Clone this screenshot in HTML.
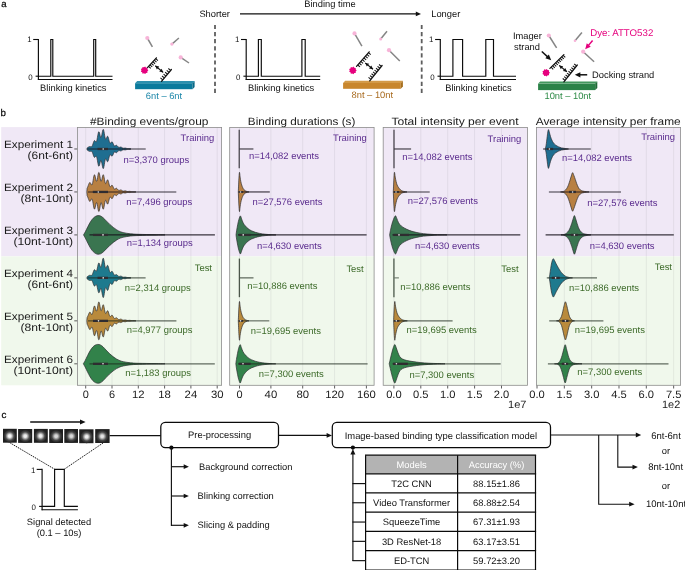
<!DOCTYPE html>
<html><head><meta charset="utf-8"><title>figure</title>
<style>
html,body{margin:0;padding:0;background:#fff;}
svg{display:block;font-family:"Liberation Sans", sans-serif;will-change:transform;text-rendering:geometricPrecision;}
</style></head><body>
<svg width="685" height="570" viewBox="0 0 685 570">
<rect x="0" y="0" width="685" height="570" fill="#ffffff"/>
<g id="panelA">
<text x="1.3" y="6.9" font-size="9.7" fill="#111" text-anchor="start" stroke="#111" stroke-width="0.28">a</text>
<text x="330" y="7.2" font-size="9.33" fill="#111" text-anchor="middle" >Binding time</text>
<text x="199.4" y="17.2" font-size="9.33" fill="#111" text-anchor="start" >Shorter</text>
<text x="431.2" y="17.2" font-size="9.33" fill="#111" text-anchor="start" >Longer</text>
<line x1="240" y1="13.9" x2="416.84" y2="13.9" stroke="#111" stroke-width="1.1" />
<path d="M0 0 L-5.2 -2.3 L-5.2 2.3 Z" fill="#111" transform="translate(421 13.9) rotate(0.0)"/>
<line x1="215" y1="24.9" x2="215" y2="93.2" stroke="#5e5e5e" stroke-width="1.8" stroke-dasharray="4.2 2.9"/>
<line x1="421.7" y1="24.9" x2="421.7" y2="93.2" stroke="#5e5e5e" stroke-width="1.8" stroke-dasharray="4.2 2.9"/>
<line x1="38.400000000000006" y1="38.95" x2="38.400000000000006" y2="80.05" stroke="#0a0a0a" stroke-width="1.15" />
<line x1="33.2" y1="39.5" x2="38.400000000000006" y2="39.5" stroke="#0a0a0a" stroke-width="1.1" />
<line x1="35.60000000000001" y1="76.2" x2="38.400000000000006" y2="76.2" stroke="#0a0a0a" stroke-width="1.1" />
<line x1="37.900000000000006" y1="79.5" x2="112.5" y2="79.5" stroke="#0a0a0a" stroke-width="1.15" />
<path d="M38.400000000000006 76.2 L50.8 76.2 L50.8 39.5 L52.8 39.5 L52.8 76.2 L93.7 76.2 L93.7 39.5 L95.7 39.5 L95.7 76.2 L112.5 76.2" fill="none" stroke="#0a0a0a" stroke-width="1.15" stroke-linejoin="miter"/>
<text x="29.400000000000006" y="42.4" font-size="7.9" fill="#111" text-anchor="middle" >1</text>
<text x="30.500000000000007" y="80.10000000000001" font-size="7.9" fill="#111" text-anchor="middle" >0</text>
<text x="73.3" y="91" font-size="9.33" fill="#111" text-anchor="middle" >Blinking kinetics</text>
<line x1="246.2" y1="38.95" x2="246.2" y2="80.05" stroke="#0a0a0a" stroke-width="1.15" />
<line x1="241.0" y1="39.5" x2="246.2" y2="39.5" stroke="#0a0a0a" stroke-width="1.1" />
<line x1="243.39999999999998" y1="76.2" x2="246.2" y2="76.2" stroke="#0a0a0a" stroke-width="1.1" />
<line x1="245.7" y1="79.5" x2="320.2" y2="79.5" stroke="#0a0a0a" stroke-width="1.15" />
<path d="M246.2 76.2 L258.4 76.2 L258.4 39.5 L261.3 39.5 L261.3 76.2 L301.9 76.2 L301.9 39.5 L305.2 39.5 L305.2 76.2 L320.2 76.2" fill="none" stroke="#0a0a0a" stroke-width="1.15" stroke-linejoin="miter"/>
<text x="237.2" y="42.4" font-size="7.9" fill="#111" text-anchor="middle" >1</text>
<text x="238.29999999999998" y="80.10000000000001" font-size="7.9" fill="#111" text-anchor="middle" >0</text>
<text x="281.1" y="91" font-size="9.33" fill="#111" text-anchor="middle" >Blinking kinetics</text>
<line x1="440.3" y1="38.95" x2="440.3" y2="80.05" stroke="#0a0a0a" stroke-width="1.15" />
<line x1="435.1" y1="39.5" x2="440.3" y2="39.5" stroke="#0a0a0a" stroke-width="1.1" />
<line x1="437.5" y1="76.2" x2="440.3" y2="76.2" stroke="#0a0a0a" stroke-width="1.1" />
<line x1="439.8" y1="79.5" x2="516" y2="79.5" stroke="#0a0a0a" stroke-width="1.15" />
<path d="M440.3 76.2 L452.9 76.2 L452.9 39.5 L462.6 39.5 L462.6 76.2 L485.8 76.2 L485.8 39.5 L493.5 39.5 L493.5 76.2 L516 76.2" fill="none" stroke="#0a0a0a" stroke-width="1.15" stroke-linejoin="miter"/>
<text x="431.3" y="42.4" font-size="7.9" fill="#111" text-anchor="middle" >1</text>
<text x="432.40000000000003" y="80.10000000000001" font-size="7.9" fill="#111" text-anchor="middle" >0</text>
<text x="478.4" y="91" font-size="9.33" fill="#111" text-anchor="middle" >Blinking kinetics</text>
<rect x="135.1" y="83.2" width="57.400000000000006" height="6.000000000000003" fill="#0b7a9c"/>
<polygon points="135.1,83.2 137.2,81 194.6,81 192.5,83.2" fill="#2d90ae"/>
<polygon points="192.5,83.2 194.6,81 194.6,87.0 192.5,89.2" fill="#0a6986"/>
<line x1="161.5" y1="81.3" x2="171.4" y2="69.5" stroke="#111" stroke-width="1.25" stroke-linecap="round"/>
<line x1="162.76" y1="79.8" x2="160.46" y2="77.87" stroke="#111" stroke-width="1.05" />
<line x1="164.33" y1="77.93" x2="162.03" y2="76.0" stroke="#111" stroke-width="1.05" />
<line x1="165.9" y1="76.06" x2="163.6" y2="74.13" stroke="#111" stroke-width="1.05" />
<line x1="167.47" y1="74.18" x2="165.17" y2="72.25" stroke="#111" stroke-width="1.05" />
<line x1="169.04" y1="72.31" x2="166.74" y2="70.38" stroke="#111" stroke-width="1.05" />
<line x1="170.61" y1="70.44" x2="168.32" y2="68.51" stroke="#111" stroke-width="1.05" />
<line x1="147.4" y1="67.7" x2="156.4" y2="57.8" stroke="#111" stroke-width="1.25" stroke-linecap="round"/>
<line x1="148.54" y1="66.44" x2="150.76" y2="68.46" stroke="#111" stroke-width="1.05" />
<line x1="149.97" y1="64.87" x2="152.19" y2="66.89" stroke="#111" stroke-width="1.05" />
<line x1="151.4" y1="63.3" x2="153.62" y2="65.32" stroke="#111" stroke-width="1.05" />
<line x1="152.83" y1="61.73" x2="155.05" y2="63.75" stroke="#111" stroke-width="1.05" />
<line x1="154.26" y1="60.16" x2="156.48" y2="62.18" stroke="#111" stroke-width="1.05" />
<line x1="155.69" y1="58.59" x2="157.91" y2="60.6" stroke="#111" stroke-width="1.05" />
<polygon points="148.38,70.30 147.36,71.34 147.47,72.79 146.02,72.93 145.17,74.12 143.97,73.29 142.56,73.66 142.17,72.25 140.86,71.63 141.46,70.30 140.86,68.97 142.17,68.35 142.56,66.94 143.97,67.31 145.17,66.48 146.02,67.67 147.47,67.81 147.36,69.26" fill="#e6007e"/>
<line x1="155.3" y1="65.7" x2="163.2" y2="72.4" stroke="#111" stroke-width="1.2" />
<path d="M0 0 L-3.6 -1.872 L-3.6 1.872 Z" fill="#111" transform="translate(163.2 72.4) rotate(40.30131948270065)"/>
<path d="M0 0 L-3.6 -1.872 L-3.6 1.872 Z" fill="#111" transform="translate(155.3 65.7) rotate(220.30131948270065)"/>
<line x1="147.3" y1="38" x2="152.4" y2="46.8" stroke="#858585" stroke-width="1.5" />
<circle cx="147.3" cy="38" r="2.1" fill="#f7b4d8"/>
<line x1="171.9" y1="44.1" x2="178.9" y2="38" stroke="#858585" stroke-width="1.5" />
<circle cx="171.9" cy="44.1" r="1.7" fill="#f7b4d8"/>
<line x1="180.7" y1="57.4" x2="189" y2="63" stroke="#858585" stroke-width="1.5" />
<circle cx="180.7" cy="57.4" r="2.1" fill="#f7b4d8"/>
<text x="164" y="99.3" font-size="9.33" fill="#1b86a8" text-anchor="middle" >6nt – 6nt</text>
<rect x="343.1" y="83.0" width="57.69999999999993" height="5.8" fill="#c8862c"/>
<polygon points="343.1,83.0 345.20000000000005,80.8 402.9,80.8 400.79999999999995,83.0" fill="#d39a48"/>
<polygon points="400.79999999999995,83.0 402.9,80.8 402.9,86.6 400.79999999999995,88.8" fill="#a66f1e"/>
<line x1="369.7" y1="80.8" x2="382.1" y2="65.5" stroke="#111" stroke-width="1.25" stroke-linecap="round"/>
<line x1="370.9" y1="79.33" x2="368.56" y2="77.44" stroke="#111" stroke-width="1.05" />
<line x1="372.39" y1="77.48" x2="370.06" y2="75.59" stroke="#111" stroke-width="1.05" />
<line x1="373.88" y1="75.64" x2="371.55" y2="73.75" stroke="#111" stroke-width="1.05" />
<line x1="375.38" y1="73.8" x2="373.05" y2="71.91" stroke="#111" stroke-width="1.05" />
<line x1="376.87" y1="71.95" x2="374.54" y2="70.06" stroke="#111" stroke-width="1.05" />
<line x1="378.37" y1="70.11" x2="376.03" y2="68.22" stroke="#111" stroke-width="1.05" />
<line x1="379.86" y1="68.27" x2="377.53" y2="66.38" stroke="#111" stroke-width="1.05" />
<line x1="381.35" y1="66.42" x2="379.02" y2="64.53" stroke="#111" stroke-width="1.05" />
<line x1="356.5" y1="66.4" x2="369.2" y2="51.8" stroke="#111" stroke-width="1.25" stroke-linecap="round"/>
<line x1="357.72" y1="64.99" x2="359.99" y2="66.96" stroke="#111" stroke-width="1.05" />
<line x1="359.25" y1="63.23" x2="361.52" y2="65.2" stroke="#111" stroke-width="1.05" />
<line x1="360.78" y1="61.47" x2="363.05" y2="63.44" stroke="#111" stroke-width="1.05" />
<line x1="362.31" y1="59.72" x2="364.58" y2="61.68" stroke="#111" stroke-width="1.05" />
<line x1="363.84" y1="57.96" x2="366.11" y2="59.93" stroke="#111" stroke-width="1.05" />
<line x1="365.37" y1="56.2" x2="367.64" y2="58.17" stroke="#111" stroke-width="1.05" />
<line x1="366.9" y1="54.44" x2="369.17" y2="56.41" stroke="#111" stroke-width="1.05" />
<line x1="368.43" y1="52.68" x2="370.7" y2="54.65" stroke="#111" stroke-width="1.05" />
<polygon points="356.68,70.40 355.66,71.44 355.77,72.89 354.32,73.03 353.47,74.22 352.27,73.39 350.86,73.76 350.47,72.35 349.16,71.73 349.76,70.40 349.16,69.07 350.47,68.45 350.86,67.04 352.27,67.41 353.47,66.58 354.32,67.77 355.77,67.91 355.66,69.36" fill="#e6007e"/>
<line x1="365.2" y1="62.9" x2="373" y2="69.2" stroke="#111" stroke-width="1.2" />
<path d="M0 0 L-3.6 -1.872 L-3.6 1.872 Z" fill="#111" transform="translate(373 69.2) rotate(38.927543592792276)"/>
<path d="M0 0 L-3.6 -1.872 L-3.6 1.872 Z" fill="#111" transform="translate(365.2 62.9) rotate(218.9275435927923)"/>
<line x1="354.5" y1="33.4" x2="361.9" y2="46.2" stroke="#858585" stroke-width="1.5" />
<circle cx="354.5" cy="33.4" r="2.1" fill="#f7b4d8"/>
<line x1="380.7" y1="39" x2="387" y2="31.3" stroke="#858585" stroke-width="1.5" />
<circle cx="380.7" cy="39" r="1.5" fill="#f7b4d8"/>
<line x1="389" y1="50.2" x2="399.8" y2="61" stroke="#858585" stroke-width="1.5" />
<circle cx="389" cy="50.2" r="2.1" fill="#f7b4d8"/>
<text x="372.3" y="98.3" font-size="9.33" fill="#a86a1e" text-anchor="middle" >8nt – 10nt</text>
<rect x="538.1" y="83.60000000000001" width="57.09999999999991" height="6.4999999999999885" fill="#2b8248"/>
<polygon points="538.1,83.60000000000001 540.2,81.4 597.3,81.4 595.1999999999999,83.60000000000001" fill="#43975e"/>
<polygon points="595.1999999999999,83.60000000000001 597.3,81.4 597.3,87.89999999999999 595.1999999999999,90.1" fill="#1f6a37"/>
<line x1="563.9" y1="81.8" x2="577.3" y2="65" stroke="#111" stroke-width="1.25" stroke-linecap="round"/>
<line x1="565.05" y1="80.35" x2="562.71" y2="78.48" stroke="#111" stroke-width="1.05" />
<line x1="566.49" y1="78.55" x2="564.15" y2="76.68" stroke="#111" stroke-width="1.05" />
<line x1="567.93" y1="76.74" x2="565.59" y2="74.87" stroke="#111" stroke-width="1.05" />
<line x1="569.38" y1="74.94" x2="567.03" y2="73.06" stroke="#111" stroke-width="1.05" />
<line x1="570.82" y1="73.13" x2="568.47" y2="71.26" stroke="#111" stroke-width="1.05" />
<line x1="572.26" y1="71.32" x2="569.91" y2="69.45" stroke="#111" stroke-width="1.05" />
<line x1="573.7" y1="69.52" x2="571.35" y2="67.65" stroke="#111" stroke-width="1.05" />
<line x1="575.14" y1="67.71" x2="572.79" y2="65.84" stroke="#111" stroke-width="1.05" />
<line x1="576.58" y1="65.9" x2="574.23" y2="64.03" stroke="#111" stroke-width="1.05" />
<line x1="549.9" y1="68.4" x2="563.9" y2="54.6" stroke="#111" stroke-width="1.25" stroke-linecap="round"/>
<line x1="551.1" y1="67.21" x2="553.21" y2="69.35" stroke="#111" stroke-width="1.05" />
<line x1="552.61" y1="65.73" x2="554.72" y2="67.87" stroke="#111" stroke-width="1.05" />
<line x1="554.12" y1="64.25" x2="556.22" y2="66.38" stroke="#111" stroke-width="1.05" />
<line x1="555.62" y1="62.76" x2="557.73" y2="64.9" stroke="#111" stroke-width="1.05" />
<line x1="557.13" y1="61.28" x2="559.23" y2="63.41" stroke="#111" stroke-width="1.05" />
<line x1="558.63" y1="59.79" x2="560.74" y2="61.93" stroke="#111" stroke-width="1.05" />
<line x1="560.14" y1="58.31" x2="562.24" y2="60.45" stroke="#111" stroke-width="1.05" />
<line x1="561.64" y1="56.83" x2="563.75" y2="58.96" stroke="#111" stroke-width="1.05" />
<line x1="563.15" y1="55.34" x2="565.25" y2="57.48" stroke="#111" stroke-width="1.05" />
<polygon points="549.98,72.70 548.96,73.74 549.07,75.19 547.62,75.33 546.77,76.52 545.57,75.69 544.16,76.06 543.77,74.65 542.46,74.03 543.06,72.70 542.46,71.37 543.77,70.75 544.16,69.34 545.57,69.71 546.77,68.88 547.62,70.07 549.07,70.21 548.96,71.66" fill="#e6007e"/>
<line x1="559.2" y1="65.4" x2="566.9" y2="71.8" stroke="#111" stroke-width="1.2" />
<path d="M0 0 L-3.6 -1.872 L-3.6 1.872 Z" fill="#111" transform="translate(566.9 71.8) rotate(39.73230287195598)"/>
<path d="M0 0 L-3.6 -1.872 L-3.6 1.872 Z" fill="#111" transform="translate(559.2 65.4) rotate(219.732302871956)"/>
<line x1="548.8" y1="35.5" x2="556.6" y2="47.9" stroke="#858585" stroke-width="1.5" />
<circle cx="548.8" cy="35.5" r="2.1" fill="#f7b4d8"/>
<line x1="575" y1="40.7" x2="581.9" y2="32.6" stroke="#858585" stroke-width="1.5" />
<circle cx="575" cy="40.7" r="1.3" fill="#f7b4d8"/>
<line x1="583.2" y1="51.7" x2="594.1" y2="61.8" stroke="#858585" stroke-width="1.5" />
<circle cx="583.2" cy="51.7" r="2.1" fill="#f7b4d8"/>
<text x="567.8" y="99.3" font-size="9.33" fill="#2e8b47" text-anchor="middle" >10nt – 10nt</text>
<text x="527.4" y="38.6" font-size="9.33" fill="#111" text-anchor="middle" >Imager</text>
<text x="527" y="50.2" font-size="9.33" fill="#111" text-anchor="middle" >strand</text>
<line x1="541.8" y1="51.5" x2="547.91" y2="57.16" stroke="#111" stroke-width="1.5" />
<path d="M0 0 L-5.6 -2.6 L-5.6 2.6 Z" fill="#111" transform="translate(551.2 60.2) rotate(42.785244872680515)"/>
<text x="590.2" y="36.2" font-size="9.68" fill="#e5007d" text-anchor="start" >Dye: ATTO532</text>
<line x1="592.6" y1="40.4" x2="588.06" y2="45.86" stroke="#e5007d" stroke-width="1.5" />
<path d="M0 0 L-5.6 -2.6 L-5.6 2.6 Z" fill="#e5007d" transform="translate(585.2 49.3) rotate(129.74219083104524)"/>
<text x="592.1" y="78" font-size="9.33" fill="#111" text-anchor="start" >Docking strand</text>
<line x1="587.2" y1="74.8" x2="579.28" y2="74.8" stroke="#111" stroke-width="1.5" />
<path d="M0 0 L-5.6 -2.6 L-5.6 2.6 Z" fill="#111" transform="translate(574.8 74.8) rotate(180.0)"/>
</g>
<g id="panelB">
<text x="0.5" y="116.2" font-size="9.7" fill="#111" text-anchor="start" stroke="#111" stroke-width="0.28">b</text>
<rect x="1.2" y="127.1" width="76.3" height="129.3" fill="#f0e8f6"/>
<rect x="1.2" y="256.4" width="76.3" height="128.9" fill="#f0f8ec"/>
<rect x="77.5" y="127.5" width="144.1" height="128.9" fill="#f0e8f6"/>
<rect x="77.5" y="256.4" width="144.1" height="128.9" fill="#f0f8ec"/>
<rect x="229.7" y="127.5" width="144.40000000000003" height="128.9" fill="#f0e8f6"/>
<rect x="229.7" y="256.4" width="144.40000000000003" height="128.9" fill="#f0f8ec"/>
<rect x="383.2" y="127.5" width="144.3" height="128.9" fill="#f0e8f6"/>
<rect x="383.2" y="256.4" width="144.3" height="128.9" fill="#f0f8ec"/>
<rect x="536.4" y="127.5" width="144.20000000000005" height="128.9" fill="#f0e8f6"/>
<rect x="536.4" y="256.4" width="144.20000000000005" height="128.9" fill="#f0f8ec"/>
<line x1="85.7" y1="127.5" x2="85.7" y2="385.3" stroke="#77777f" stroke-width="0.6" stroke-opacity="0.2"/>
<line x1="85.7" y1="385.3" x2="85.7" y2="388.5" stroke="#333" stroke-width="0.8" />
<line x1="112.0" y1="127.5" x2="112.0" y2="385.3" stroke="#77777f" stroke-width="0.6" stroke-opacity="0.2"/>
<line x1="112.0" y1="385.3" x2="112.0" y2="388.5" stroke="#333" stroke-width="0.8" />
<line x1="138.3" y1="127.5" x2="138.3" y2="385.3" stroke="#77777f" stroke-width="0.6" stroke-opacity="0.2"/>
<line x1="138.3" y1="385.3" x2="138.3" y2="388.5" stroke="#333" stroke-width="0.8" />
<line x1="164.6" y1="127.5" x2="164.6" y2="385.3" stroke="#77777f" stroke-width="0.6" stroke-opacity="0.2"/>
<line x1="164.6" y1="385.3" x2="164.6" y2="388.5" stroke="#333" stroke-width="0.8" />
<line x1="190.9" y1="127.5" x2="190.9" y2="385.3" stroke="#77777f" stroke-width="0.6" stroke-opacity="0.2"/>
<line x1="190.9" y1="385.3" x2="190.9" y2="388.5" stroke="#333" stroke-width="0.8" />
<line x1="217.2" y1="127.5" x2="217.2" y2="385.3" stroke="#77777f" stroke-width="0.6" stroke-opacity="0.2"/>
<line x1="217.2" y1="385.3" x2="217.2" y2="388.5" stroke="#333" stroke-width="0.8" />
<text x="85.7" y="397.7" font-size="10.7" fill="#1a1a1a" text-anchor="middle" textLength="6.1" lengthAdjust="spacingAndGlyphs">0</text>
<text x="112.0" y="397.7" font-size="10.7" fill="#1a1a1a" text-anchor="middle" textLength="6.1" lengthAdjust="spacingAndGlyphs">6</text>
<text x="138.3" y="397.7" font-size="10.7" fill="#1a1a1a" text-anchor="middle" textLength="12.6" lengthAdjust="spacingAndGlyphs">12</text>
<text x="164.6" y="397.7" font-size="10.7" fill="#1a1a1a" text-anchor="middle" textLength="12.6" lengthAdjust="spacingAndGlyphs">18</text>
<text x="190.9" y="397.7" font-size="10.7" fill="#1a1a1a" text-anchor="middle" textLength="12.6" lengthAdjust="spacingAndGlyphs">24</text>
<text x="217.2" y="397.7" font-size="10.7" fill="#1a1a1a" text-anchor="middle" textLength="12.6" lengthAdjust="spacingAndGlyphs">30</text>
<line x1="239.5" y1="127.5" x2="239.5" y2="385.3" stroke="#77777f" stroke-width="0.6" stroke-opacity="0.2"/>
<line x1="239.5" y1="385.3" x2="239.5" y2="388.5" stroke="#333" stroke-width="0.8" />
<line x1="270.9" y1="127.5" x2="270.9" y2="385.3" stroke="#77777f" stroke-width="0.6" stroke-opacity="0.2"/>
<line x1="270.9" y1="385.3" x2="270.9" y2="388.5" stroke="#333" stroke-width="0.8" />
<line x1="302.7" y1="127.5" x2="302.7" y2="385.3" stroke="#77777f" stroke-width="0.6" stroke-opacity="0.2"/>
<line x1="302.7" y1="385.3" x2="302.7" y2="388.5" stroke="#333" stroke-width="0.8" />
<line x1="334.6" y1="127.5" x2="334.6" y2="385.3" stroke="#77777f" stroke-width="0.6" stroke-opacity="0.2"/>
<line x1="334.6" y1="385.3" x2="334.6" y2="388.5" stroke="#333" stroke-width="0.8" />
<line x1="366.4" y1="127.5" x2="366.4" y2="385.3" stroke="#77777f" stroke-width="0.6" stroke-opacity="0.2"/>
<line x1="366.4" y1="385.3" x2="366.4" y2="388.5" stroke="#333" stroke-width="0.8" />
<text x="239.5" y="397.7" font-size="10.7" fill="#1a1a1a" text-anchor="middle" textLength="6.1" lengthAdjust="spacingAndGlyphs">0</text>
<text x="270.9" y="397.7" font-size="10.7" fill="#1a1a1a" text-anchor="middle" textLength="12.6" lengthAdjust="spacingAndGlyphs">40</text>
<text x="302.7" y="397.7" font-size="10.7" fill="#1a1a1a" text-anchor="middle" textLength="12.6" lengthAdjust="spacingAndGlyphs">80</text>
<text x="334.6" y="397.7" font-size="10.7" fill="#1a1a1a" text-anchor="middle" textLength="18.8" lengthAdjust="spacingAndGlyphs">120</text>
<text x="366.4" y="397.7" font-size="10.7" fill="#1a1a1a" text-anchor="middle" textLength="18.8" lengthAdjust="spacingAndGlyphs">160</text>
<line x1="393.9" y1="127.5" x2="393.9" y2="385.3" stroke="#77777f" stroke-width="0.6" stroke-opacity="0.2"/>
<line x1="393.9" y1="385.3" x2="393.9" y2="388.5" stroke="#333" stroke-width="0.8" />
<line x1="420.8" y1="127.5" x2="420.8" y2="385.3" stroke="#77777f" stroke-width="0.6" stroke-opacity="0.2"/>
<line x1="420.8" y1="385.3" x2="420.8" y2="388.5" stroke="#333" stroke-width="0.8" />
<line x1="447.7" y1="127.5" x2="447.7" y2="385.3" stroke="#77777f" stroke-width="0.6" stroke-opacity="0.2"/>
<line x1="447.7" y1="385.3" x2="447.7" y2="388.5" stroke="#333" stroke-width="0.8" />
<line x1="474.6" y1="127.5" x2="474.6" y2="385.3" stroke="#77777f" stroke-width="0.6" stroke-opacity="0.2"/>
<line x1="474.6" y1="385.3" x2="474.6" y2="388.5" stroke="#333" stroke-width="0.8" />
<line x1="501.5" y1="127.5" x2="501.5" y2="385.3" stroke="#77777f" stroke-width="0.6" stroke-opacity="0.2"/>
<line x1="501.5" y1="385.3" x2="501.5" y2="388.5" stroke="#333" stroke-width="0.8" />
<text x="393.9" y="397.7" font-size="10.7" fill="#1a1a1a" text-anchor="middle" textLength="15.5" lengthAdjust="spacingAndGlyphs">0.0</text>
<text x="420.8" y="397.7" font-size="10.7" fill="#1a1a1a" text-anchor="middle" textLength="15.5" lengthAdjust="spacingAndGlyphs">0.5</text>
<text x="447.7" y="397.7" font-size="10.7" fill="#1a1a1a" text-anchor="middle" textLength="15.5" lengthAdjust="spacingAndGlyphs">1.0</text>
<text x="474.6" y="397.7" font-size="10.7" fill="#1a1a1a" text-anchor="middle" textLength="15.5" lengthAdjust="spacingAndGlyphs">1.5</text>
<text x="501.5" y="397.7" font-size="10.7" fill="#1a1a1a" text-anchor="middle" textLength="15.5" lengthAdjust="spacingAndGlyphs">2.0</text>
<line x1="537.0" y1="385.3" x2="537.0" y2="388.5" stroke="#333" stroke-width="0.8" />
<line x1="564.33" y1="127.5" x2="564.33" y2="385.3" stroke="#77777f" stroke-width="0.6" stroke-opacity="0.2"/>
<line x1="564.33" y1="385.3" x2="564.33" y2="388.5" stroke="#333" stroke-width="0.8" />
<line x1="591.66" y1="127.5" x2="591.66" y2="385.3" stroke="#77777f" stroke-width="0.6" stroke-opacity="0.2"/>
<line x1="591.66" y1="385.3" x2="591.66" y2="388.5" stroke="#333" stroke-width="0.8" />
<line x1="618.99" y1="127.5" x2="618.99" y2="385.3" stroke="#77777f" stroke-width="0.6" stroke-opacity="0.2"/>
<line x1="618.99" y1="385.3" x2="618.99" y2="388.5" stroke="#333" stroke-width="0.8" />
<line x1="646.32" y1="127.5" x2="646.32" y2="385.3" stroke="#77777f" stroke-width="0.6" stroke-opacity="0.2"/>
<line x1="646.32" y1="385.3" x2="646.32" y2="388.5" stroke="#333" stroke-width="0.8" />
<line x1="673.65" y1="127.5" x2="673.65" y2="385.3" stroke="#77777f" stroke-width="0.6" stroke-opacity="0.2"/>
<line x1="673.65" y1="385.3" x2="673.65" y2="388.5" stroke="#333" stroke-width="0.8" />
<text x="537.0" y="397.7" font-size="10.7" fill="#1a1a1a" text-anchor="middle" textLength="15.5" lengthAdjust="spacingAndGlyphs">0.0</text>
<text x="564.33" y="397.7" font-size="10.7" fill="#1a1a1a" text-anchor="middle" textLength="15.5" lengthAdjust="spacingAndGlyphs">1.5</text>
<text x="591.66" y="397.7" font-size="10.7" fill="#1a1a1a" text-anchor="middle" textLength="15.5" lengthAdjust="spacingAndGlyphs">3.0</text>
<text x="618.99" y="397.7" font-size="10.7" fill="#1a1a1a" text-anchor="middle" textLength="15.5" lengthAdjust="spacingAndGlyphs">4.5</text>
<text x="646.32" y="397.7" font-size="10.7" fill="#1a1a1a" text-anchor="middle" textLength="15.5" lengthAdjust="spacingAndGlyphs">6.0</text>
<text x="673.65" y="397.7" font-size="10.7" fill="#1a1a1a" text-anchor="middle" textLength="15.5" lengthAdjust="spacingAndGlyphs">7.5</text>
<text x="149.2" y="124.5" font-size="10.7" fill="#1a1a1a" text-anchor="middle" textLength="118.5" lengthAdjust="spacingAndGlyphs">#Binding events/group</text>
<text x="301.6" y="124.5" font-size="10.7" fill="#1a1a1a" text-anchor="middle" textLength="107.5" lengthAdjust="spacingAndGlyphs">Binding durations (s)</text>
<text x="455.0" y="124.5" font-size="10.7" fill="#1a1a1a" text-anchor="middle" textLength="127" lengthAdjust="spacingAndGlyphs">Total intensity per event</text>
<text x="608.2" y="124.5" font-size="10.7" fill="#1a1a1a" text-anchor="middle" textLength="145" lengthAdjust="spacingAndGlyphs">Average intensity per frame</text>
<text x="508.0" y="408.4" font-size="10.7" fill="#1a1a1a" text-anchor="start" textLength="18.4" lengthAdjust="spacingAndGlyphs">1e7</text>
<text x="662.0" y="408.4" font-size="10.7" fill="#1a1a1a" text-anchor="start" textLength="18.2" lengthAdjust="spacingAndGlyphs">1e2</text>
<text x="73" y="147.68" font-size="10.7" fill="#1a1a1a" text-anchor="end" textLength="69" lengthAdjust="spacingAndGlyphs">Experiment 1</text>
<text x="73" y="159.28" font-size="10.7" fill="#1a1a1a" text-anchor="end" textLength="45.5" lengthAdjust="spacingAndGlyphs">(6nt-6nt)</text>
<line x1="74.3" y1="148.98" x2="77.5" y2="148.98" stroke="#333" stroke-width="0.8" />
<text x="73" y="190.65" font-size="10.7" fill="#1a1a1a" text-anchor="end" textLength="69" lengthAdjust="spacingAndGlyphs">Experiment 2</text>
<text x="73" y="202.25" font-size="10.7" fill="#1a1a1a" text-anchor="end" textLength="52.5" lengthAdjust="spacingAndGlyphs">(8nt-10nt)</text>
<line x1="74.3" y1="191.95" x2="77.5" y2="191.95" stroke="#333" stroke-width="0.8" />
<text x="73" y="233.62" font-size="10.7" fill="#1a1a1a" text-anchor="end" textLength="69" lengthAdjust="spacingAndGlyphs">Experiment 3</text>
<text x="73" y="245.22" font-size="10.7" fill="#1a1a1a" text-anchor="end" textLength="59.5" lengthAdjust="spacingAndGlyphs">(10nt-10nt)</text>
<line x1="74.3" y1="234.92" x2="77.5" y2="234.92" stroke="#333" stroke-width="0.8" />
<text x="73" y="276.58" font-size="10.7" fill="#1a1a1a" text-anchor="end" textLength="69" lengthAdjust="spacingAndGlyphs">Experiment 4</text>
<text x="73" y="288.18" font-size="10.7" fill="#1a1a1a" text-anchor="end" textLength="45.5" lengthAdjust="spacingAndGlyphs">(6nt-6nt)</text>
<line x1="74.3" y1="277.88" x2="77.5" y2="277.88" stroke="#333" stroke-width="0.8" />
<text x="73" y="319.55" font-size="10.7" fill="#1a1a1a" text-anchor="end" textLength="69" lengthAdjust="spacingAndGlyphs">Experiment 5</text>
<text x="73" y="331.15" font-size="10.7" fill="#1a1a1a" text-anchor="end" textLength="52.5" lengthAdjust="spacingAndGlyphs">(8nt-10nt)</text>
<line x1="74.3" y1="320.85" x2="77.5" y2="320.85" stroke="#333" stroke-width="0.8" />
<text x="73" y="362.52" font-size="10.7" fill="#1a1a1a" text-anchor="end" textLength="69" lengthAdjust="spacingAndGlyphs">Experiment 6</text>
<text x="73" y="374.12" font-size="10.7" fill="#1a1a1a" text-anchor="end" textLength="59.5" lengthAdjust="spacingAndGlyphs">(10nt-10nt)</text>
<line x1="74.3" y1="363.82" x2="77.5" y2="363.82" stroke="#333" stroke-width="0.8" />
<path d="M86.90 148.98 L87.20 147.84 L87.50 147.66 L87.80 147.48 L88.10 147.30 L88.40 147.12 L88.70 146.95 L89.00 146.80 L89.30 146.68 L89.60 146.60 L89.90 146.57 L90.20 146.59 L90.50 146.64 L90.80 146.71 L91.10 146.74 L91.40 146.70 L91.70 146.52 L92.00 146.18 L92.30 145.66 L92.60 144.95 L92.90 144.10 L93.20 143.18 L93.50 142.28 L93.80 141.49 L94.10 140.92 L94.40 140.62 L94.70 140.60 L95.00 140.82 L95.30 141.20 L95.60 141.59 L95.90 141.84 L96.20 141.81 L96.50 141.39 L96.80 140.52 L97.10 139.24 L97.40 137.64 L97.70 135.90 L98.00 134.23 L98.30 132.86 L98.60 131.98 L98.90 131.70 L99.20 132.04 L99.50 132.91 L99.80 134.12 L100.10 135.43 L100.40 136.58 L100.70 137.32 L101.00 137.49 L101.30 137.03 L101.60 135.98 L101.90 134.51 L102.20 132.85 L102.50 131.28 L102.80 130.07 L103.10 129.44 L103.40 129.51 L103.70 130.29 L104.00 131.64 L104.30 133.37 L104.60 135.21 L104.90 136.91 L105.20 138.23 L105.50 139.05 L105.80 139.30 L106.10 139.06 L106.40 138.44 L106.70 137.65 L107.00 136.90 L107.30 136.37 L107.60 136.21 L107.90 136.49 L108.20 137.19 L108.50 138.22 L108.80 139.43 L109.10 140.66 L109.40 141.75 L109.70 142.58 L110.00 143.08 L110.30 143.24 L110.60 143.11 L110.90 142.78 L111.20 142.39 L111.50 142.04 L111.80 141.83 L112.10 141.85 L112.40 142.11 L112.70 142.59 L113.00 143.23 L113.30 143.94 L113.60 144.62 L113.90 145.21 L114.20 145.63 L114.50 145.87 L114.80 145.93 L115.10 145.85 L115.40 145.68 L115.70 145.49 L116.00 145.35 L116.30 145.29 L116.60 145.35 L116.90 145.53 L117.20 145.81 L117.50 146.16 L117.80 146.52 L118.10 146.86 L118.40 147.12 L118.70 147.30 L119.00 147.38 L119.30 147.37 L119.60 147.31 L119.90 147.21 L120.20 147.11 L120.50 147.05 L120.80 147.04 L121.10 147.10 L121.40 147.22 L121.70 147.39 L122.00 147.58 L122.30 147.77 L122.60 147.94 L122.90 148.08 L123.20 148.16 L123.50 148.20 L123.80 148.19 L124.10 148.16 L124.40 148.11 L124.70 148.08 L125.00 148.06 L125.30 148.07 L125.60 148.11 L125.90 148.18 L126.20 148.26 L126.50 148.36 L126.80 148.45 L127.10 148.52 L127.40 148.58 L127.70 148.61 L128.00 148.63 L128.30 148.62 L128.60 148.61 L128.90 148.59 L129.20 148.58 L129.50 148.57 L129.80 148.59 L130.10 148.61 L130.40 148.65 L130.70 148.69 L131.00 148.98 L131.00 148.98 L130.70 149.27 L130.40 149.32 L130.10 149.36 L129.80 149.38 L129.50 149.39 L129.20 149.39 L128.90 149.38 L128.60 149.36 L128.30 149.35 L128.00 149.34 L127.70 149.35 L127.40 149.39 L127.10 149.44 L126.80 149.52 L126.50 149.61 L126.20 149.70 L125.90 149.79 L125.60 149.86 L125.30 149.90 L125.00 149.91 L124.70 149.89 L124.40 149.85 L124.10 149.81 L123.80 149.78 L123.50 149.77 L123.20 149.81 L122.90 149.89 L122.60 150.02 L122.30 150.19 L122.00 150.39 L121.70 150.58 L121.40 150.75 L121.10 150.87 L120.80 150.93 L120.50 150.92 L120.20 150.86 L119.90 150.76 L119.60 150.66 L119.30 150.59 L119.00 150.59 L118.70 150.67 L118.40 150.84 L118.10 151.11 L117.80 151.44 L117.50 151.81 L117.20 152.15 L116.90 152.43 L116.60 152.62 L116.30 152.68 L116.00 152.62 L115.70 152.47 L115.40 152.29 L115.10 152.12 L114.80 152.04 L114.50 152.10 L114.20 152.34 L113.90 152.76 L113.60 153.34 L113.30 154.03 L113.00 154.74 L112.70 155.37 L112.40 155.85 L112.10 156.11 L111.80 156.13 L111.50 155.93 L111.20 155.58 L110.90 155.18 L110.60 154.86 L110.30 154.73 L110.00 154.89 L109.70 155.39 L109.40 156.22 L109.10 157.31 L108.80 158.54 L108.50 159.75 L108.20 160.78 L107.90 161.48 L107.60 161.75 L107.30 161.60 L107.00 161.07 L106.70 160.31 L106.40 159.52 L106.10 158.91 L105.80 158.66 L105.50 158.92 L105.20 159.73 L104.90 161.06 L104.60 162.75 L104.30 164.60 L104.00 166.33 L103.70 167.68 L103.40 168.45 L103.10 168.53 L102.80 167.90 L102.50 166.69 L102.20 165.12 L101.90 163.46 L101.60 161.98 L101.30 160.94 L101.00 160.48 L100.70 160.65 L100.40 161.39 L100.10 162.53 L99.80 163.84 L99.50 165.06 L99.20 165.93 L98.90 166.27 L98.60 165.99 L98.30 165.10 L98.00 163.74 L97.70 162.07 L97.40 160.33 L97.10 158.73 L96.80 157.45 L96.50 156.58 L96.20 156.16 L95.90 156.13 L95.60 156.38 L95.30 156.77 L95.00 157.14 L94.70 157.37 L94.40 157.35 L94.10 157.05 L93.80 156.47 L93.50 155.69 L93.20 154.79 L92.90 153.87 L92.60 153.02 L92.30 152.31 L92.00 151.78 L91.70 151.44 L91.40 151.27 L91.10 151.22 L90.80 151.26 L90.50 151.32 L90.20 151.38 L89.90 151.40 L89.60 151.37 L89.30 151.29 L89.00 151.17 L88.70 151.01 L88.40 150.84 L88.10 150.67 L87.80 150.48 L87.50 150.30 L87.20 150.12 L86.90 148.98 Z" fill="#1f6e91" stroke="#2c2c30" stroke-width="0.7" stroke-linejoin="round"/>
<line x1="87.5" y1="148.98" x2="145.7" y2="148.98" stroke="#15111a" stroke-width="1.15" stroke-opacity="0.84"/>
<line x1="97.5" y1="148.98" x2="108" y2="148.98" stroke="#2f2c30" stroke-width="2.3" />
<circle cx="103.2" cy="148.98" r="0.8" fill="#e8e8e8"/>
<path d="M86.80 191.95 L87.10 188.29 L87.40 187.63 L87.70 186.92 L88.00 186.18 L88.30 185.40 L88.60 184.62 L88.90 183.87 L89.20 183.22 L89.50 182.75 L89.80 182.51 L90.10 182.55 L90.40 182.86 L90.70 183.39 L91.00 184.02 L91.30 184.61 L91.60 184.99 L91.90 185.01 L92.20 184.57 L92.50 183.63 L92.80 182.23 L93.10 180.51 L93.40 178.68 L93.70 176.97 L94.00 175.64 L94.30 174.87 L94.60 174.78 L94.90 175.35 L95.20 176.46 L95.50 177.87 L95.80 179.32 L96.10 180.50 L96.40 181.18 L96.70 181.20 L97.00 180.53 L97.30 179.25 L97.60 177.56 L97.90 175.74 L98.20 174.09 L98.50 172.91 L98.80 172.40 L99.10 172.66 L99.40 173.64 L99.70 175.17 L100.00 176.97 L100.30 178.73 L100.60 180.17 L100.90 181.06 L101.20 181.26 L101.50 180.78 L101.80 179.74 L102.10 178.36 L102.40 176.90 L102.70 175.66 L103.00 174.89 L103.30 174.74 L103.60 175.26 L103.90 176.38 L104.20 177.92 L104.50 179.63 L104.80 181.25 L105.10 182.54 L105.40 183.35 L105.70 183.61 L106.00 183.34 L106.30 182.66 L106.60 181.76 L106.90 180.85 L107.20 180.13 L107.50 179.79 L107.80 179.89 L108.10 180.47 L108.40 181.42 L108.70 182.63 L109.00 183.90 L109.30 185.08 L109.60 186.01 L109.90 186.61 L110.20 186.85 L110.50 186.77 L110.80 186.46 L111.10 186.02 L111.40 185.60 L111.70 185.31 L112.00 185.23 L112.30 185.40 L112.60 185.81 L112.90 186.41 L113.20 187.10 L113.50 187.79 L113.80 188.40 L114.10 188.84 L114.40 189.10 L114.70 189.16 L115.00 189.06 L115.30 188.86 L115.60 188.62 L115.90 188.41 L116.20 188.30 L116.50 188.31 L116.80 188.45 L117.10 188.72 L117.40 189.07 L117.70 189.45 L118.00 189.81 L118.30 190.11 L118.60 190.31 L118.90 190.41 L119.20 190.40 L119.50 190.31 L119.80 190.19 L120.10 190.05 L120.40 189.95 L120.70 189.91 L121.00 189.95 L121.30 190.06 L121.60 190.23 L121.90 190.43 L122.20 190.64 L122.50 190.83 L122.80 190.98 L123.10 191.07 L123.40 191.10 L123.70 191.08 L124.00 191.02 L124.30 190.95 L124.60 190.88 L124.90 190.84 L125.20 190.83 L125.50 190.87 L125.80 190.94 L126.10 191.05 L126.40 191.16 L126.70 191.28 L127.00 191.37 L127.30 191.44 L127.60 191.48 L127.90 191.48 L128.20 191.46 L128.50 191.43 L128.80 191.39 L129.10 191.36 L129.40 191.34 L129.70 191.35 L130.00 191.37 L130.30 191.42 L130.60 191.48 L130.90 191.55 L131.20 191.61 L131.50 191.66 L131.80 191.69 L132.10 191.71 L132.40 191.71 L132.70 191.70 L133.00 191.68 L133.30 191.66 L133.60 191.65 L133.90 191.65 L134.20 191.65 L134.50 191.67 L134.80 191.70 L135.10 191.74 L135.40 191.78 L135.70 191.82 L136.00 191.95 L136.00 191.95 L135.70 192.08 L135.40 192.12 L135.10 192.16 L134.80 192.20 L134.50 192.23 L134.20 192.25 L133.90 192.25 L133.60 192.25 L133.30 192.24 L133.00 192.22 L132.70 192.20 L132.40 192.19 L132.10 192.19 L131.80 192.21 L131.50 192.24 L131.20 192.29 L130.90 192.35 L130.60 192.42 L130.30 192.48 L130.00 192.53 L129.70 192.55 L129.40 192.56 L129.10 192.54 L128.80 192.51 L128.50 192.47 L128.20 192.44 L127.90 192.42 L127.60 192.42 L127.30 192.46 L127.00 192.53 L126.70 192.62 L126.40 192.74 L126.10 192.85 L125.80 192.96 L125.50 193.03 L125.20 193.07 L124.90 193.06 L124.60 193.02 L124.30 192.95 L124.00 192.88 L123.70 192.82 L123.40 192.80 L123.10 192.83 L122.80 192.92 L122.50 193.07 L122.20 193.26 L121.90 193.47 L121.60 193.67 L121.30 193.84 L121.00 193.95 L120.70 193.99 L120.40 193.95 L120.10 193.85 L119.80 193.71 L119.50 193.59 L119.20 193.50 L118.90 193.49 L118.60 193.59 L118.30 193.79 L118.00 194.09 L117.70 194.45 L117.40 194.83 L117.10 195.18 L116.80 195.45 L116.50 195.59 L116.20 195.60 L115.90 195.49 L115.60 195.28 L115.30 195.04 L115.00 194.84 L114.70 194.74 L114.40 194.80 L114.10 195.06 L113.80 195.50 L113.50 196.11 L113.20 196.80 L112.90 197.49 L112.60 198.09 L112.30 198.50 L112.00 198.67 L111.70 198.59 L111.40 198.30 L111.10 197.88 L110.80 197.44 L110.50 197.13 L110.20 197.05 L109.90 197.29 L109.60 197.89 L109.30 198.82 L109.00 200.00 L108.70 201.27 L108.40 202.48 L108.10 203.43 L107.80 204.01 L107.50 204.11 L107.20 203.77 L106.90 203.05 L106.60 202.14 L106.30 201.24 L106.00 200.56 L105.70 200.29 L105.40 200.55 L105.10 201.36 L104.80 202.65 L104.50 204.27 L104.20 205.98 L103.90 207.52 L103.60 208.64 L103.30 209.16 L103.00 209.01 L102.70 208.24 L102.40 207.00 L102.10 205.54 L101.80 204.16 L101.50 203.12 L101.20 202.64 L100.90 202.84 L100.60 203.73 L100.30 205.17 L100.00 206.93 L99.70 208.73 L99.40 210.26 L99.10 211.24 L98.80 211.50 L98.50 210.99 L98.20 209.81 L97.90 208.16 L97.60 206.34 L97.30 204.65 L97.00 203.37 L96.70 202.70 L96.40 202.72 L96.10 203.40 L95.80 204.58 L95.50 206.03 L95.20 207.44 L94.90 208.55 L94.60 209.12 L94.30 209.03 L94.00 208.26 L93.70 206.93 L93.40 205.22 L93.10 203.39 L92.80 201.67 L92.50 200.27 L92.20 199.33 L91.90 198.89 L91.60 198.91 L91.30 199.29 L91.00 199.88 L90.70 200.51 L90.40 201.04 L90.10 201.35 L89.80 201.39 L89.50 201.15 L89.20 200.68 L88.90 200.03 L88.60 199.28 L88.30 198.50 L88.00 197.72 L87.70 196.98 L87.40 196.27 L87.10 195.61 L86.80 191.95 Z" fill="#b88042" stroke="#2c2c30" stroke-width="0.7" stroke-linejoin="round"/>
<line x1="88" y1="191.95" x2="176.3" y2="191.95" stroke="#15111a" stroke-width="1.15" stroke-opacity="0.84"/>
<line x1="92.8" y1="191.95" x2="108" y2="191.95" stroke="#2f2c30" stroke-width="2.3" />
<circle cx="98.3" cy="191.95" r="0.8" fill="#e8e8e8"/>
<path d="M83.50 234.92 C83.80 234.40 84.57 233.20 85.30 231.82 C86.03 230.43 87.03 228.30 87.90 226.62 C88.77 224.93 89.62 223.12 90.50 221.72 C91.38 220.32 92.32 219.13 93.20 218.22 C94.08 217.30 95.00 216.65 95.80 216.22 C96.60 215.78 97.20 215.65 98.00 215.62 C98.80 215.58 99.73 215.65 100.60 216.02 C101.47 216.38 102.25 217.00 103.20 217.82 C104.15 218.63 105.20 219.82 106.30 220.92 C107.40 222.02 108.63 223.33 109.80 224.42 C110.97 225.50 112.13 226.50 113.30 227.42 C114.47 228.33 115.62 229.20 116.80 229.92 C117.98 230.63 119.22 231.25 120.40 231.72 C121.58 232.18 122.45 232.40 123.90 232.72 C125.35 233.03 127.07 233.37 129.10 233.62 C131.13 233.87 132.62 234.05 136.10 234.22 C139.58 234.38 145.18 234.50 150.00 234.62 C154.82 234.73 162.50 234.87 165.00 234.92 L165.00 234.92 C162.50 234.97 154.82 235.10 150.00 235.22 C145.18 235.33 139.58 235.45 136.10 235.62 C132.62 235.78 131.13 235.97 129.10 236.22 C127.07 236.47 125.35 236.80 123.90 237.12 C122.45 237.43 121.58 237.65 120.40 238.12 C119.22 238.58 117.98 239.20 116.80 239.92 C115.62 240.63 114.47 241.50 113.30 242.42 C112.13 243.33 110.97 244.33 109.80 245.42 C108.63 246.50 107.40 247.82 106.30 248.92 C105.20 250.02 104.15 251.20 103.20 252.02 C102.25 252.83 101.47 253.45 100.60 253.82 C99.73 254.18 98.80 254.25 98.00 254.22 C97.20 254.18 96.60 254.05 95.80 253.62 C95.00 253.18 94.08 252.53 93.20 251.62 C92.32 250.70 91.38 249.52 90.50 248.12 C89.62 246.72 88.77 244.90 87.90 243.22 C87.03 241.53 86.03 239.40 85.30 238.02 C84.57 236.63 83.80 235.43 83.50 234.92 Z" fill="#3a7550" stroke="#2c2c30" stroke-width="0.7" stroke-linejoin="round"/>
<line x1="89.5" y1="234.92" x2="214.9" y2="234.92" stroke="#15111a" stroke-width="1.15" stroke-opacity="0.84"/>
<line x1="93" y1="234.92" x2="108" y2="234.92" stroke="#2f2c30" stroke-width="2.3" />
<circle cx="103" cy="234.92" r="0.8" fill="#e8e8e8"/>
<path d="M86.90 277.88 L87.20 276.71 L87.50 276.52 L87.80 276.32 L88.10 276.12 L88.40 275.92 L88.70 275.73 L89.00 275.55 L89.30 275.41 L89.60 275.31 L89.90 275.27 L90.20 275.29 L90.50 275.36 L90.80 275.44 L91.10 275.50 L91.40 275.49 L91.70 275.35 L92.00 275.05 L92.30 274.56 L92.60 273.89 L92.90 273.08 L93.20 272.20 L93.50 271.33 L93.80 270.57 L94.10 270.02 L94.40 269.74 L94.70 269.73 L95.00 269.98 L95.30 270.38 L95.60 270.82 L95.90 271.15 L96.20 271.24 L96.50 270.97 L96.80 270.32 L97.10 269.28 L97.40 267.96 L97.70 266.49 L98.00 265.08 L98.30 263.91 L98.60 263.15 L98.90 262.90 L99.20 263.17 L99.50 263.89 L99.80 264.87 L100.10 265.91 L100.40 266.76 L100.70 267.21 L101.00 267.12 L101.30 266.43 L101.60 265.21 L101.90 263.59 L102.20 261.83 L102.50 260.18 L102.80 258.93 L103.10 258.27 L103.40 258.33 L103.70 259.10 L104.00 260.47 L104.30 262.21 L104.60 264.07 L104.90 265.79 L105.20 267.14 L105.50 267.99 L105.80 268.27 L106.10 268.06 L106.40 267.47 L106.70 266.71 L107.00 265.98 L107.30 265.47 L107.60 265.32 L107.90 265.60 L108.20 266.29 L108.50 267.31 L108.80 268.52 L109.10 269.76 L109.40 270.86 L109.70 271.72 L110.00 272.26 L110.30 272.47 L110.60 272.41 L110.90 272.15 L111.20 271.81 L111.50 271.51 L111.80 271.33 L112.10 271.36 L112.40 271.60 L112.70 272.04 L113.00 272.63 L113.30 273.28 L113.60 273.91 L113.90 274.45 L114.20 274.85 L114.50 275.08 L114.80 275.14 L115.10 275.08 L115.40 274.94 L115.70 274.77 L116.00 274.65 L116.30 274.60 L116.60 274.65 L116.90 274.81 L117.20 275.07 L117.50 275.37 L117.80 275.70 L118.10 275.99 L118.40 276.23 L118.70 276.38 L119.00 276.45 L119.30 276.45 L119.60 276.38 L119.90 276.29 L120.20 276.21 L120.50 276.15 L120.80 276.15 L121.10 276.20 L121.40 276.30 L121.70 276.45 L122.00 276.63 L122.30 276.80 L122.60 276.95 L122.90 277.07 L123.20 277.15 L123.50 277.18 L123.80 277.18 L124.10 277.15 L124.40 277.11 L124.70 277.08 L125.00 277.06 L125.30 277.07 L125.60 277.11 L125.90 277.17 L126.20 277.25 L126.50 277.33 L126.80 277.42 L127.10 277.49 L127.40 277.54 L127.70 277.58 L128.00 277.60 L128.30 277.60 L128.60 277.59 L128.90 277.58 L129.20 277.58 L129.50 277.57 L129.80 277.58 L130.10 277.60 L130.40 277.63 L130.70 277.67 L131.00 277.88 L131.00 277.88 L130.70 278.10 L130.40 278.13 L130.10 278.16 L129.80 278.18 L129.50 278.19 L129.20 278.19 L128.90 278.18 L128.60 278.17 L128.30 278.17 L128.00 278.17 L127.70 278.19 L127.40 278.22 L127.10 278.28 L126.80 278.35 L126.50 278.43 L126.20 278.52 L125.90 278.60 L125.60 278.66 L125.30 278.70 L125.00 278.70 L124.70 278.69 L124.40 278.66 L124.10 278.62 L123.80 278.59 L123.50 278.59 L123.20 278.62 L122.90 278.69 L122.60 278.81 L122.30 278.97 L122.00 279.14 L121.70 279.31 L121.40 279.46 L121.10 279.57 L120.80 279.62 L120.50 279.62 L120.20 279.56 L119.90 279.47 L119.60 279.38 L119.30 279.32 L119.00 279.31 L118.70 279.38 L118.40 279.54 L118.10 279.78 L117.80 280.07 L117.50 280.39 L117.20 280.70 L116.90 280.95 L116.60 281.11 L116.30 281.17 L116.00 281.12 L115.70 280.99 L115.40 280.83 L115.10 280.69 L114.80 280.62 L114.50 280.69 L114.20 280.92 L113.90 281.32 L113.60 281.86 L113.30 282.49 L113.00 283.14 L112.70 283.72 L112.40 284.17 L112.10 284.41 L111.80 284.43 L111.50 284.26 L111.20 283.96 L110.90 283.62 L110.60 283.36 L110.30 283.29 L110.00 283.51 L109.70 284.05 L109.40 284.90 L109.10 286.01 L108.80 287.24 L108.50 288.45 L108.20 289.47 L107.90 290.17 L107.60 290.45 L107.30 290.30 L107.00 289.79 L106.70 289.06 L106.40 288.29 L106.10 287.71 L105.80 287.49 L105.50 287.78 L105.20 288.62 L104.90 289.98 L104.60 291.69 L104.30 293.56 L104.00 295.30 L103.70 296.66 L103.40 297.43 L103.10 297.49 L102.80 296.84 L102.50 295.58 L102.20 293.94 L101.90 292.17 L101.60 290.56 L101.30 289.33 L101.00 288.65 L100.70 288.56 L100.40 289.01 L100.10 289.86 L99.80 290.90 L99.50 291.88 L99.20 292.59 L98.90 292.87 L98.60 292.62 L98.30 291.86 L98.00 290.69 L97.70 289.28 L97.40 287.81 L97.10 286.49 L96.80 285.45 L96.50 284.79 L96.20 284.53 L95.90 284.62 L95.60 284.95 L95.30 285.39 L95.00 285.79 L94.70 286.03 L94.40 286.03 L94.10 285.75 L93.80 285.20 L93.50 284.44 L93.20 283.57 L92.90 282.68 L92.60 281.87 L92.30 281.21 L92.00 280.72 L91.70 280.42 L91.40 280.28 L91.10 280.27 L90.80 280.33 L90.50 280.41 L90.20 280.47 L89.90 280.49 L89.60 280.46 L89.30 280.36 L89.00 280.22 L88.70 280.04 L88.40 279.85 L88.10 279.64 L87.80 279.44 L87.50 279.24 L87.20 279.05 L86.90 277.88 Z" fill="#1e7a8e" stroke="#2c2c30" stroke-width="0.7" stroke-linejoin="round"/>
<line x1="87.5" y1="277.88" x2="145.6" y2="277.88" stroke="#1c281c" stroke-width="1.15" stroke-opacity="0.68"/>
<line x1="97.5" y1="277.88" x2="108" y2="277.88" stroke="#2f2c30" stroke-width="2.3" />
<circle cx="103.2" cy="277.88" r="0.8" fill="#e8e8e8"/>
<path d="M86.80 320.85 L87.10 317.62 L87.40 317.01 L87.70 316.36 L88.00 315.66 L88.30 314.93 L88.60 314.18 L88.90 313.47 L89.20 312.84 L89.50 312.37 L89.80 312.13 L90.10 312.15 L90.40 312.44 L90.70 312.94 L91.00 313.54 L91.30 314.12 L91.60 314.52 L91.90 314.61 L92.20 314.29 L92.50 313.53 L92.80 312.36 L93.10 310.90 L93.40 309.34 L93.70 307.88 L94.00 306.73 L94.30 306.07 L94.60 305.98 L94.90 306.46 L95.20 307.39 L95.50 308.56 L95.80 309.74 L96.10 310.65 L96.40 311.10 L96.70 310.93 L97.00 310.13 L97.30 308.78 L97.60 307.06 L97.90 305.23 L98.20 303.60 L98.50 302.43 L98.80 301.93 L99.10 302.18 L99.40 303.13 L99.70 304.61 L100.00 306.37 L100.30 308.11 L100.60 309.54 L100.90 310.44 L101.20 310.69 L101.50 310.30 L101.80 309.36 L102.10 308.09 L102.40 306.75 L102.70 305.60 L103.00 304.89 L103.30 304.76 L103.60 305.26 L103.90 306.33 L104.20 307.79 L104.50 309.43 L104.80 311.00 L105.10 312.30 L105.40 313.16 L105.70 313.53 L106.00 313.43 L106.30 312.95 L106.60 312.26 L106.90 311.54 L107.20 310.97 L107.50 310.70 L107.80 310.79 L108.10 311.27 L108.40 312.07 L108.70 313.08 L109.00 314.14 L109.30 315.11 L109.60 315.88 L109.90 316.37 L110.20 316.56 L110.50 316.48 L110.80 316.20 L111.10 315.83 L111.40 315.47 L111.70 315.22 L112.00 315.15 L112.30 315.30 L112.60 315.65 L112.90 316.15 L113.20 316.74 L113.50 317.33 L113.80 317.84 L114.10 318.23 L114.40 318.45 L114.70 318.51 L115.00 318.44 L115.30 318.27 L115.60 318.07 L115.90 317.90 L116.20 317.80 L116.50 317.81 L116.80 317.93 L117.10 318.16 L117.40 318.45 L117.70 318.76 L118.00 319.06 L118.30 319.31 L118.60 319.47 L118.90 319.55 L119.20 319.54 L119.50 319.46 L119.80 319.35 L120.10 319.24 L120.40 319.15 L120.70 319.12 L121.00 319.15 L121.30 319.24 L121.60 319.39 L121.90 319.56 L122.20 319.74 L122.50 319.91 L122.80 320.04 L123.10 320.12 L123.40 320.14 L123.70 320.13 L124.00 320.09 L124.30 320.03 L124.60 319.97 L124.90 319.94 L125.20 319.93 L125.50 319.96 L125.80 320.03 L126.10 320.11 L126.40 320.20 L126.70 320.30 L127.00 320.38 L127.30 320.43 L127.60 320.46 L127.90 320.46 L128.20 320.45 L128.50 320.42 L128.80 320.38 L129.10 320.36 L129.40 320.34 L129.70 320.35 L130.00 320.37 L130.30 320.41 L130.60 320.46 L130.90 320.51 L131.20 320.57 L131.50 320.61 L131.80 320.63 L132.10 320.65 L132.40 320.65 L132.70 320.64 L133.00 320.62 L133.30 320.61 L133.60 320.60 L133.90 320.60 L134.20 320.60 L134.50 320.62 L134.80 320.64 L135.10 320.68 L135.40 320.71 L135.70 320.74 L136.00 320.85 L136.00 320.85 L135.70 320.96 L135.40 320.99 L135.10 321.02 L134.80 321.06 L134.50 321.08 L134.20 321.10 L133.90 321.10 L133.60 321.10 L133.30 321.09 L133.00 321.08 L132.70 321.06 L132.40 321.05 L132.10 321.05 L131.80 321.07 L131.50 321.09 L131.20 321.13 L130.90 321.19 L130.60 321.24 L130.30 321.29 L130.00 321.33 L129.70 321.35 L129.40 321.36 L129.10 321.34 L128.80 321.32 L128.50 321.28 L128.20 321.25 L127.90 321.24 L127.60 321.24 L127.30 321.27 L127.00 321.32 L126.70 321.40 L126.40 321.50 L126.10 321.59 L125.80 321.67 L125.50 321.74 L125.20 321.77 L124.90 321.76 L124.60 321.73 L124.30 321.67 L124.00 321.61 L123.70 321.57 L123.40 321.56 L123.10 321.58 L122.80 321.66 L122.50 321.79 L122.20 321.96 L121.90 322.14 L121.60 322.31 L121.30 322.46 L121.00 322.55 L120.70 322.58 L120.40 322.55 L120.10 322.46 L119.80 322.35 L119.50 322.24 L119.20 322.16 L118.90 322.15 L118.60 322.23 L118.30 322.39 L118.00 322.64 L117.70 322.94 L117.40 323.25 L117.10 323.54 L116.80 323.77 L116.50 323.89 L116.20 323.90 L115.90 323.80 L115.60 323.63 L115.30 323.43 L115.00 323.26 L114.70 323.19 L114.40 323.25 L114.10 323.47 L113.80 323.86 L113.50 324.37 L113.20 324.96 L112.90 325.55 L112.60 326.05 L112.30 326.40 L112.00 326.55 L111.70 326.48 L111.40 326.23 L111.10 325.87 L110.80 325.50 L110.50 325.22 L110.20 325.14 L109.90 325.33 L109.60 325.82 L109.30 326.59 L109.00 327.56 L108.70 328.62 L108.40 329.63 L108.10 330.43 L107.80 330.91 L107.50 331.00 L107.20 330.73 L106.90 330.16 L106.60 329.44 L106.30 328.75 L106.00 328.27 L105.70 328.17 L105.40 328.54 L105.10 329.40 L104.80 330.70 L104.50 332.27 L104.20 333.91 L103.90 335.37 L103.60 336.44 L103.30 336.94 L103.00 336.81 L102.70 336.10 L102.40 334.95 L102.10 333.61 L101.80 332.34 L101.50 331.40 L101.20 331.01 L100.90 331.26 L100.60 332.16 L100.30 333.59 L100.00 335.33 L99.70 337.09 L99.40 338.57 L99.10 339.52 L98.80 339.77 L98.50 339.27 L98.20 338.10 L97.90 336.47 L97.60 334.64 L97.30 332.92 L97.00 331.57 L96.70 330.77 L96.40 330.60 L96.10 331.05 L95.80 331.96 L95.50 333.14 L95.20 334.31 L94.90 335.24 L94.60 335.72 L94.30 335.63 L94.00 334.97 L93.70 333.82 L93.40 332.36 L93.10 330.80 L92.80 329.34 L92.50 328.17 L92.20 327.41 L91.90 327.09 L91.60 327.18 L91.30 327.58 L91.00 328.16 L90.70 328.76 L90.40 329.26 L90.10 329.55 L89.80 329.57 L89.50 329.33 L89.20 328.86 L88.90 328.23 L88.60 327.52 L88.30 326.77 L88.00 326.04 L87.70 325.34 L87.40 324.69 L87.10 324.08 L86.80 320.85 Z" fill="#b98a3c" stroke="#2c2c30" stroke-width="0.7" stroke-linejoin="round"/>
<line x1="88" y1="320.85" x2="176.4" y2="320.85" stroke="#1c281c" stroke-width="1.15" stroke-opacity="0.68"/>
<line x1="93" y1="320.85" x2="108" y2="320.85" stroke="#2f2c30" stroke-width="2.3" />
<circle cx="98.5" cy="320.85" r="0.8" fill="#e8e8e8"/>
<path d="M83.30 363.82 C83.60 363.30 84.38 362.10 85.10 360.72 C85.82 359.33 86.75 357.20 87.60 355.52 C88.45 353.83 89.33 352.03 90.20 350.62 C91.07 349.20 91.93 347.95 92.80 347.02 C93.67 346.08 94.57 345.45 95.40 345.02 C96.23 344.58 96.97 344.43 97.80 344.42 C98.63 344.40 99.53 344.52 100.40 344.92 C101.27 345.32 102.07 345.97 103.00 346.82 C103.93 347.67 104.92 348.88 106.00 350.02 C107.08 351.15 108.33 352.52 109.50 353.62 C110.67 354.72 111.83 355.72 113.00 356.62 C114.17 357.52 115.33 358.33 116.50 359.02 C117.67 359.70 118.83 360.27 120.00 360.72 C121.17 361.17 122.00 361.40 123.50 361.72 C125.00 362.03 126.92 362.37 129.00 362.62 C131.08 362.87 132.50 363.07 136.00 363.22 C139.50 363.37 145.17 363.42 150.00 363.52 C154.83 363.62 162.50 363.77 165.00 363.82 L165.00 363.82 C162.50 363.87 154.83 364.02 150.00 364.12 C145.17 364.22 139.50 364.27 136.00 364.42 C132.50 364.57 131.08 364.77 129.00 365.02 C126.92 365.27 125.00 365.60 123.50 365.92 C122.00 366.23 121.17 366.47 120.00 366.92 C118.83 367.37 117.67 367.93 116.50 368.62 C115.33 369.30 114.17 370.12 113.00 371.02 C111.83 371.92 110.67 372.92 109.50 374.02 C108.33 375.12 107.08 376.48 106.00 377.62 C104.92 378.75 103.93 379.97 103.00 380.82 C102.07 381.67 101.27 382.32 100.40 382.72 C99.53 383.12 98.63 383.23 97.80 383.22 C96.97 383.20 96.23 383.05 95.40 382.62 C94.57 382.18 93.67 381.55 92.80 380.62 C91.93 379.68 91.07 378.43 90.20 377.02 C89.33 375.60 88.45 373.80 87.60 372.12 C86.75 370.43 85.82 368.30 85.10 366.92 C84.38 365.53 83.60 364.33 83.30 363.82 Z" fill="#32824a" stroke="#2c2c30" stroke-width="0.7" stroke-linejoin="round"/>
<line x1="89.5" y1="363.82" x2="214.8" y2="363.82" stroke="#1c281c" stroke-width="1.15" stroke-opacity="0.68"/>
<line x1="93" y1="363.82" x2="108" y2="363.82" stroke="#2f2c30" stroke-width="2.3" />
<circle cx="103" cy="363.82" r="0.8" fill="#e8e8e8"/>
<line x1="239.2" y1="129.68" x2="239.2" y2="168.28" stroke="#38343c" stroke-width="1.15" />
<line x1="239.2" y1="148.98" x2="253.4" y2="148.98" stroke="#38343c" stroke-width="1.1" />
<path d="M238.30 191.95 C238.35 190.78 238.48 187.43 238.60 184.95 C238.72 182.47 238.85 179.17 239.00 177.05 C239.15 174.93 239.32 172.25 239.50 172.25 C239.68 172.25 239.88 175.52 240.10 177.05 C240.32 178.58 240.53 180.13 240.80 181.45 C241.07 182.77 241.38 183.93 241.70 184.95 C242.02 185.97 242.32 186.75 242.70 187.55 C243.08 188.35 243.48 189.17 244.00 189.75 C244.52 190.33 245.22 190.72 245.80 191.05 C246.38 191.37 246.97 191.55 247.50 191.70 C248.03 191.85 248.75 191.91 249.00 191.95 L249.00 191.95 C248.75 191.99 248.03 192.05 247.50 192.20 C246.97 192.35 246.38 192.53 245.80 192.85 C245.22 193.17 244.52 193.57 244.00 194.15 C243.48 194.73 243.08 195.55 242.70 196.35 C242.32 197.15 242.02 197.93 241.70 198.95 C241.38 199.97 241.07 201.13 240.80 202.45 C240.53 203.77 240.32 205.32 240.10 206.85 C239.88 208.38 239.68 211.65 239.50 211.65 C239.32 211.65 239.15 208.97 239.00 206.85 C238.85 204.73 238.72 201.43 238.60 198.95 C238.48 196.47 238.35 193.12 238.30 191.95 Z" fill="#b88042" stroke="#2c2c30" stroke-width="0.7" stroke-linejoin="round"/>
<line x1="238.5" y1="191.95" x2="269.8" y2="191.95" stroke="#15111a" stroke-width="1.15" stroke-opacity="0.84"/>
<line x1="238.9" y1="191.95" x2="243" y2="191.95" stroke="#2f2c30" stroke-width="1.8" />
<circle cx="240.5" cy="191.95" r="0.8" fill="#e8e8e8"/>
<path d="M236.00 234.92 C236.10 234.23 236.32 232.53 236.60 230.82 C236.88 229.10 237.32 226.52 237.70 224.62 C238.08 222.72 238.45 220.87 238.90 219.42 C239.35 217.97 239.95 216.00 240.40 215.92 C240.85 215.83 241.13 217.75 241.60 218.92 C242.07 220.08 242.57 221.73 243.20 222.92 C243.83 224.10 244.60 225.07 245.40 226.02 C246.20 226.97 246.98 227.82 248.00 228.62 C249.02 229.42 250.27 230.20 251.50 230.82 C252.73 231.43 254.02 231.88 255.40 232.32 C256.78 232.75 258.18 233.10 259.80 233.42 C261.42 233.73 263.20 234.00 265.10 234.22 C267.00 234.43 269.38 234.60 271.20 234.72 C273.02 234.83 275.20 234.88 276.00 234.92 L276.00 234.92 C275.20 234.95 273.02 235.00 271.20 235.12 C269.38 235.23 267.00 235.40 265.10 235.62 C263.20 235.83 261.42 236.10 259.80 236.42 C258.18 236.73 256.78 237.08 255.40 237.52 C254.02 237.95 252.73 238.40 251.50 239.02 C250.27 239.63 249.02 240.42 248.00 241.22 C246.98 242.02 246.20 242.87 245.40 243.82 C244.60 244.77 243.83 245.73 243.20 246.92 C242.57 248.10 242.07 249.75 241.60 250.92 C241.13 252.08 240.85 254.00 240.40 253.92 C239.95 253.83 239.35 251.87 238.90 250.42 C238.45 248.97 238.08 247.12 237.70 245.22 C237.32 243.32 236.88 240.73 236.60 239.02 C236.32 237.30 236.10 235.60 236.00 234.92 Z" fill="#3a7550" stroke="#2c2c30" stroke-width="0.7" stroke-linejoin="round"/>
<line x1="238" y1="234.92" x2="366.6" y2="234.92" stroke="#15111a" stroke-width="1.15" stroke-opacity="0.84"/>
<line x1="238.8" y1="234.92" x2="250.6" y2="234.92" stroke="#2f2c30" stroke-width="2.3" />
<circle cx="243.2" cy="234.92" r="0.8" fill="#e8e8e8"/>
<line x1="239.4" y1="258.58" x2="239.4" y2="297.18" stroke="#4c564a" stroke-width="1.3" />
<line x1="239.4" y1="277.88" x2="253.5" y2="277.88" stroke="#4c564a" stroke-width="1.1" />
<path d="M238.30 320.85 C238.35 319.70 238.48 316.40 238.60 313.96 C238.72 311.51 238.85 308.26 239.00 306.17 C239.15 304.09 239.32 301.45 239.50 301.45 C239.68 301.45 239.88 304.66 240.10 306.17 C240.32 307.68 240.53 309.21 240.80 310.51 C241.07 311.80 241.38 312.95 241.70 313.96 C242.02 314.96 242.32 315.73 242.70 316.52 C243.08 317.30 243.48 318.11 244.00 318.68 C244.52 319.26 245.22 319.64 245.80 319.96 C246.38 320.28 246.97 320.46 247.50 320.60 C248.03 320.75 248.75 320.81 249.00 320.85 L249.00 320.85 C248.75 320.89 248.03 320.95 247.50 321.10 C246.97 321.24 246.38 321.42 245.80 321.74 C245.22 322.06 244.52 322.44 244.00 323.02 C243.48 323.59 243.08 324.40 242.70 325.18 C242.32 325.97 242.02 326.74 241.70 327.75 C241.38 328.75 241.07 329.90 240.80 331.19 C240.53 332.49 240.32 334.02 240.10 335.53 C239.88 337.04 239.68 340.25 239.50 340.25 C239.32 340.25 239.15 337.61 239.00 335.53 C238.85 333.44 238.72 330.19 238.60 327.75 C238.48 325.30 238.35 322.00 238.30 320.85 Z" fill="#b98a3c" stroke="#2c2c30" stroke-width="0.7" stroke-linejoin="round"/>
<line x1="238.5" y1="320.85" x2="269.3" y2="320.85" stroke="#1c281c" stroke-width="1.15" stroke-opacity="0.68"/>
<line x1="238.9" y1="320.85" x2="243" y2="320.85" stroke="#2f2c30" stroke-width="1.8" />
<circle cx="240.5" cy="320.85" r="0.8" fill="#e8e8e8"/>
<path d="M235.80 363.82 C235.90 363.13 236.12 361.41 236.40 359.68 C236.68 357.94 237.12 355.33 237.50 353.41 C237.88 351.49 238.25 349.63 238.70 348.16 C239.15 346.70 239.75 344.71 240.20 344.63 C240.65 344.54 240.93 346.48 241.40 347.66 C241.87 348.83 242.37 350.50 243.00 351.70 C243.63 352.89 244.40 353.87 245.20 354.83 C246.00 355.79 246.78 356.65 247.80 357.45 C248.82 358.26 250.07 359.05 251.30 359.68 C252.53 360.30 253.82 360.75 255.20 361.19 C256.58 361.63 257.98 361.98 259.60 362.30 C261.22 362.62 263.00 362.89 264.90 363.11 C266.80 363.33 269.18 363.50 271.00 363.61 C272.82 363.73 275.00 363.78 275.80 363.82 L275.80 363.82 C275.00 363.85 272.82 363.90 271.00 364.02 C269.18 364.14 266.80 364.30 264.90 364.52 C263.00 364.74 261.22 365.01 259.60 365.33 C257.98 365.65 256.58 366.00 255.20 366.44 C253.82 366.88 252.53 367.33 251.30 367.96 C250.07 368.58 248.82 369.37 247.80 370.18 C246.78 370.99 246.00 371.85 245.20 372.81 C244.40 373.77 243.63 374.74 243.00 375.94 C242.37 377.13 241.87 378.80 241.40 379.98 C240.93 381.16 240.65 383.09 240.20 383.01 C239.75 382.92 239.15 380.94 238.70 379.47 C238.25 378.01 237.88 376.14 237.50 374.22 C237.12 372.30 236.68 369.69 236.40 367.96 C236.12 366.22 235.90 364.51 235.80 363.82 Z" fill="#32824a" stroke="#2c2c30" stroke-width="0.7" stroke-linejoin="round"/>
<line x1="238" y1="363.82" x2="367.6" y2="363.82" stroke="#1c281c" stroke-width="1.15" stroke-opacity="0.68"/>
<line x1="238.8" y1="363.82" x2="250.6" y2="363.82" stroke="#2f2c30" stroke-width="2.3" />
<circle cx="243" cy="363.82" r="0.8" fill="#e8e8e8"/>
<line x1="394.0" y1="129.68" x2="394.0" y2="168.28" stroke="#38343c" stroke-width="1.15" />
<line x1="394.0" y1="148.98" x2="411.1" y2="148.98" stroke="#38343c" stroke-width="1.1" />
<path d="M393.30 191.95 C393.35 190.78 393.48 187.43 393.60 184.95 C393.72 182.47 393.85 179.17 394.00 177.05 C394.15 174.93 394.30 172.25 394.50 172.25 C394.70 172.25 394.93 175.52 395.20 177.05 C395.47 178.58 395.78 180.13 396.10 181.45 C396.42 182.77 396.68 183.93 397.10 184.95 C397.52 185.97 398.05 186.75 398.60 187.55 C399.15 188.35 399.75 189.17 400.40 189.75 C401.05 190.33 401.70 190.72 402.50 191.05 C403.30 191.37 404.45 191.55 405.20 191.70 C405.95 191.85 406.70 191.91 407.00 191.95 L407.00 191.95 C406.70 191.99 405.95 192.05 405.20 192.20 C404.45 192.35 403.30 192.53 402.50 192.85 C401.70 193.17 401.05 193.57 400.40 194.15 C399.75 194.73 399.15 195.55 398.60 196.35 C398.05 197.15 397.52 197.93 397.10 198.95 C396.68 199.97 396.42 201.13 396.10 202.45 C395.78 203.77 395.47 205.32 395.20 206.85 C394.93 208.38 394.70 211.65 394.50 211.65 C394.30 211.65 394.15 208.97 394.00 206.85 C393.85 204.73 393.72 201.43 393.60 198.95 C393.48 196.47 393.35 193.12 393.30 191.95 Z" fill="#b88042" stroke="#2c2c30" stroke-width="0.7" stroke-linejoin="round"/>
<line x1="393.5" y1="191.95" x2="429.7" y2="191.95" stroke="#15111a" stroke-width="1.15" stroke-opacity="0.84"/>
<line x1="393.9" y1="191.95" x2="399" y2="191.95" stroke="#2f2c30" stroke-width="1.8" />
<circle cx="396" cy="191.95" r="0.8" fill="#e8e8e8"/>
<path d="M389.60 234.92 C389.73 234.22 390.03 232.45 390.40 230.72 C390.77 228.98 391.28 226.42 391.80 224.52 C392.32 222.62 392.90 220.77 393.50 219.32 C394.10 217.87 394.85 215.97 395.40 215.82 C395.95 215.67 396.27 217.25 396.80 218.42 C397.33 219.58 397.87 221.57 398.60 222.82 C399.33 224.07 400.18 225.02 401.20 225.92 C402.22 226.82 403.38 227.48 404.70 228.22 C406.02 228.95 407.57 229.72 409.10 230.32 C410.63 230.92 412.07 231.34 413.90 231.82 C415.73 232.29 417.90 232.80 420.10 233.17 C422.30 233.53 424.77 233.79 427.10 234.02 C429.43 234.24 431.77 234.39 434.10 234.52 C436.43 234.64 438.95 234.70 441.10 234.77 C443.25 234.83 446.02 234.89 447.00 234.92 L447.00 234.92 C446.02 234.94 443.25 235.00 441.10 235.07 C438.95 235.13 436.43 235.19 434.10 235.32 C431.77 235.44 429.43 235.59 427.10 235.82 C424.77 236.04 422.30 236.30 420.10 236.67 C417.90 237.03 415.73 237.54 413.90 238.02 C412.07 238.49 410.63 238.92 409.10 239.52 C407.57 240.12 406.02 240.88 404.70 241.62 C403.38 242.35 402.22 243.02 401.20 243.92 C400.18 244.82 399.33 245.77 398.60 247.02 C397.87 248.27 397.33 250.25 396.80 251.42 C396.27 252.58 395.95 254.17 395.40 254.02 C394.85 253.87 394.10 251.97 393.50 250.52 C392.90 249.07 392.32 247.22 391.80 245.32 C391.28 243.42 390.77 240.85 390.40 239.12 C390.03 237.38 389.73 235.62 389.60 234.92 Z" fill="#3a7550" stroke="#2c2c30" stroke-width="0.7" stroke-linejoin="round"/>
<line x1="392.5" y1="234.92" x2="520.3" y2="234.92" stroke="#15111a" stroke-width="1.15" stroke-opacity="0.84"/>
<line x1="393.3" y1="234.92" x2="409.1" y2="234.92" stroke="#2f2c30" stroke-width="2.3" />
<circle cx="399" cy="234.92" r="0.8" fill="#e8e8e8"/>
<line x1="393.9" y1="258.58" x2="393.9" y2="297.18" stroke="#6b7769" stroke-width="1.6" />
<line x1="393.9" y1="277.88" x2="398.9" y2="277.88" stroke="#6b7769" stroke-width="1.1" />
<path d="M393.60 320.85 C393.65 319.70 393.78 316.40 393.90 313.96 C394.02 311.51 394.15 308.26 394.30 306.17 C394.45 304.09 394.60 301.45 394.80 301.45 C395.00 301.45 395.23 304.66 395.50 306.17 C395.77 307.68 396.08 309.21 396.40 310.51 C396.72 311.80 396.98 312.95 397.40 313.96 C397.82 314.96 398.35 315.73 398.90 316.52 C399.45 317.30 400.05 318.11 400.70 318.68 C401.35 319.26 402.00 319.64 402.80 319.96 C403.60 320.28 404.75 320.46 405.50 320.60 C406.25 320.75 407.00 320.81 407.30 320.85 L407.30 320.85 C407.00 320.89 406.25 320.95 405.50 321.10 C404.75 321.24 403.60 321.42 402.80 321.74 C402.00 322.06 401.35 322.44 400.70 323.02 C400.05 323.59 399.45 324.40 398.90 325.18 C398.35 325.97 397.82 326.74 397.40 327.75 C396.98 328.75 396.72 329.90 396.40 331.19 C396.08 332.49 395.77 334.02 395.50 335.53 C395.23 337.04 395.00 340.25 394.80 340.25 C394.60 340.25 394.45 337.61 394.30 335.53 C394.15 333.44 394.02 330.19 393.90 327.75 C393.78 325.30 393.65 322.00 393.60 320.85 Z" fill="#b98a3c" stroke="#2c2c30" stroke-width="0.7" stroke-linejoin="round"/>
<line x1="393.8" y1="320.85" x2="452.6" y2="320.85" stroke="#1c281c" stroke-width="1.15" stroke-opacity="0.68"/>
<line x1="394.2" y1="320.85" x2="399.3" y2="320.85" stroke="#2f2c30" stroke-width="1.8" />
<circle cx="396.3" cy="320.85" r="0.8" fill="#e8e8e8"/>
<path d="M389.20 363.82 C389.38 363.02 389.87 360.85 390.30 359.02 C390.73 357.18 391.30 354.72 391.80 352.82 C392.30 350.92 392.80 349.00 393.30 347.62 C393.80 346.23 394.32 344.52 394.80 344.52 C395.28 344.52 395.67 346.23 396.20 347.62 C396.73 349.00 397.38 351.28 398.00 352.82 C398.62 354.35 399.15 355.78 399.90 356.82 C400.65 357.85 401.33 358.40 402.50 359.02 C403.67 359.63 405.13 360.08 406.90 360.52 C408.67 360.95 410.90 361.28 413.10 361.62 C415.30 361.95 417.47 362.25 420.10 362.52 C422.73 362.78 425.98 363.04 428.90 363.22 C431.82 363.39 434.92 363.47 437.60 363.57 C440.28 363.67 443.77 363.77 445.00 363.82 L445.00 363.82 C443.77 363.86 440.28 363.97 437.60 364.07 C434.92 364.17 431.82 364.24 428.90 364.42 C425.98 364.59 422.73 364.85 420.10 365.12 C417.47 365.38 415.30 365.68 413.10 366.02 C410.90 366.35 408.67 366.68 406.90 367.12 C405.13 367.55 403.67 368.00 402.50 368.62 C401.33 369.23 400.65 369.78 399.90 370.82 C399.15 371.85 398.62 373.28 398.00 374.82 C397.38 376.35 396.73 378.63 396.20 380.02 C395.67 381.40 395.28 383.12 394.80 383.12 C394.32 383.12 393.80 381.40 393.30 380.02 C392.80 378.63 392.30 376.72 391.80 374.82 C391.30 372.92 390.73 370.45 390.30 368.62 C389.87 366.78 389.38 364.62 389.20 363.82 Z" fill="#32824a" stroke="#2c2c30" stroke-width="0.7" stroke-linejoin="round"/>
<line x1="392.5" y1="363.82" x2="500.7" y2="363.82" stroke="#1c281c" stroke-width="1.15" stroke-opacity="0.68"/>
<line x1="393.1" y1="363.82" x2="407.8" y2="363.82" stroke="#2f2c30" stroke-width="2.3" />
<circle cx="396.4" cy="363.82" r="0.8" fill="#e8e8e8"/>
<path d="M545.20 148.98 C545.35 148.35 545.80 146.98 546.10 145.18 C546.40 143.38 546.72 140.37 547.00 138.18 C547.28 136.00 547.55 133.52 547.80 132.08 C548.05 130.65 548.25 129.58 548.50 129.58 C548.75 129.58 548.97 130.93 549.30 132.08 C549.63 133.23 550.08 135.17 550.50 136.48 C550.92 137.80 551.30 138.90 551.80 139.98 C552.30 141.07 552.85 142.12 553.50 142.98 C554.15 143.85 554.88 144.55 555.70 145.18 C556.52 145.82 557.45 146.33 558.40 146.78 C559.35 147.23 560.30 147.60 561.40 147.88 C562.50 148.17 563.82 148.30 565.00 148.48 C566.18 148.67 567.92 148.90 568.50 148.98 L568.50 148.98 C567.92 149.07 566.18 149.30 565.00 149.48 C563.82 149.67 562.50 149.80 561.40 150.08 C560.30 150.37 559.35 150.73 558.40 151.18 C557.45 151.63 556.52 152.15 555.70 152.78 C554.88 153.42 554.15 154.12 553.50 154.98 C552.85 155.85 552.30 156.90 551.80 157.98 C551.30 159.07 550.92 160.17 550.50 161.48 C550.08 162.80 549.63 164.73 549.30 165.88 C548.97 167.03 548.75 168.38 548.50 168.38 C548.25 168.38 548.05 167.32 547.80 165.88 C547.55 164.45 547.28 161.97 547.00 159.78 C546.72 157.60 546.40 154.58 546.10 152.78 C545.80 150.98 545.35 149.62 545.20 148.98 Z" fill="#1f6e91" stroke="#2c2c30" stroke-width="0.7" stroke-linejoin="round"/>
<line x1="543" y1="148.98" x2="590.8" y2="148.98" stroke="#15111a" stroke-width="1.15" stroke-opacity="0.84"/>
<line x1="547" y1="148.98" x2="553.1" y2="148.98" stroke="#2f2c30" stroke-width="2.3" />
<circle cx="549.4" cy="148.98" r="0.8" fill="#e8e8e8"/>
<path d="M560.50 191.95 C560.98 191.87 562.55 191.78 563.40 191.45 C564.25 191.12 564.93 190.63 565.60 189.95 C566.27 189.27 566.88 188.30 567.40 187.35 C567.92 186.40 568.27 185.43 568.70 184.25 C569.13 183.07 569.57 181.63 570.00 180.25 C570.43 178.87 570.87 177.22 571.30 175.95 C571.73 174.68 572.17 172.73 572.60 172.65 C573.03 172.57 573.45 174.32 573.90 175.45 C574.35 176.58 574.85 178.13 575.30 179.45 C575.75 180.77 576.10 182.03 576.60 183.35 C577.10 184.67 577.72 186.28 578.30 187.35 C578.88 188.42 579.37 189.13 580.10 189.75 C580.83 190.37 581.68 190.73 582.70 191.05 C583.72 191.37 585.15 191.50 586.20 191.65 C587.25 191.80 588.53 191.90 589.00 191.95 L589.00 191.95 C588.53 192.00 587.25 192.10 586.20 192.25 C585.15 192.40 583.72 192.53 582.70 192.85 C581.68 193.17 580.83 193.53 580.10 194.15 C579.37 194.77 578.88 195.48 578.30 196.55 C577.72 197.62 577.10 199.23 576.60 200.55 C576.10 201.87 575.75 203.13 575.30 204.45 C574.85 205.77 574.35 207.32 573.90 208.45 C573.45 209.58 573.03 211.33 572.60 211.25 C572.17 211.17 571.73 209.22 571.30 207.95 C570.87 206.68 570.43 205.03 570.00 203.65 C569.57 202.27 569.13 200.83 568.70 199.65 C568.27 198.47 567.92 197.50 567.40 196.55 C566.88 195.60 566.27 194.63 565.60 193.95 C564.93 193.27 564.25 192.78 563.40 192.45 C562.55 192.12 560.98 192.03 560.50 191.95 Z" fill="#b88042" stroke="#2c2c30" stroke-width="0.7" stroke-linejoin="round"/>
<line x1="548.9" y1="191.95" x2="621" y2="191.95" stroke="#15111a" stroke-width="1.15" stroke-opacity="0.84"/>
<line x1="569.1" y1="191.95" x2="575.9" y2="191.95" stroke="#2f2c30" stroke-width="2.3" />
<circle cx="572.6" cy="191.95" r="0.8" fill="#e8e8e8"/>
<path d="M561.00 234.92 C561.48 234.86 562.98 234.86 563.90 234.57 C564.82 234.28 565.70 233.81 566.50 233.17 C567.30 232.53 568.05 231.71 568.70 230.72 C569.35 229.73 569.88 228.47 570.40 227.22 C570.92 225.97 571.35 224.60 571.80 223.22 C572.25 221.83 572.67 220.18 573.10 218.92 C573.53 217.65 573.97 215.62 574.40 215.62 C574.83 215.62 575.27 217.65 575.70 218.92 C576.13 220.18 576.57 221.83 577.00 223.22 C577.43 224.60 577.78 225.97 578.30 227.22 C578.82 228.47 579.43 229.77 580.10 230.72 C580.77 231.67 581.50 232.37 582.30 232.92 C583.10 233.47 583.95 233.74 584.90 234.02 C585.85 234.29 586.98 234.42 588.00 234.57 C589.02 234.72 590.50 234.86 591.00 234.92 L591.00 234.92 C590.50 234.98 589.02 235.12 588.00 235.27 C586.98 235.42 585.85 235.54 584.90 235.82 C583.95 236.09 583.10 236.37 582.30 236.92 C581.50 237.47 580.77 238.17 580.10 239.12 C579.43 240.07 578.82 241.37 578.30 242.62 C577.78 243.87 577.43 245.23 577.00 246.62 C576.57 248.00 576.13 249.65 575.70 250.92 C575.27 252.18 574.83 254.22 574.40 254.22 C573.97 254.22 573.53 252.18 573.10 250.92 C572.67 249.65 572.25 248.00 571.80 246.62 C571.35 245.23 570.92 243.87 570.40 242.62 C569.88 241.37 569.35 240.11 568.70 239.12 C568.05 238.12 567.30 237.31 566.50 236.67 C565.70 236.03 564.82 235.56 563.90 235.27 C562.98 234.98 561.48 234.98 561.00 234.92 Z" fill="#3a7550" stroke="#2c2c30" stroke-width="0.7" stroke-linejoin="round"/>
<line x1="545.6" y1="234.92" x2="673.8" y2="234.92" stroke="#15111a" stroke-width="1.15" stroke-opacity="0.84"/>
<line x1="570.9" y1="234.92" x2="577.9" y2="234.92" stroke="#2f2c30" stroke-width="2.3" />
<circle cx="574.4" cy="234.92" r="0.8" fill="#e8e8e8"/>
<path d="M549.20 277.88 C549.30 277.33 549.55 276.17 549.80 274.58 C550.05 273.00 550.37 270.43 550.70 268.38 C551.03 266.33 551.38 263.88 551.80 262.28 C552.22 260.68 552.75 259.08 553.20 258.78 C553.65 258.48 554.00 259.62 554.50 260.48 C555.00 261.35 555.55 262.73 556.20 263.98 C556.85 265.23 557.67 266.73 558.40 267.98 C559.13 269.23 559.87 270.47 560.60 271.48 C561.33 272.50 562.00 273.31 562.80 274.08 C563.60 274.86 564.52 275.62 565.40 276.13 C566.28 276.65 567.22 276.93 568.10 277.18 C568.98 277.44 569.97 277.57 570.70 277.68 C571.43 277.80 572.20 277.85 572.50 277.88 L572.50 277.88 C572.20 277.92 571.43 277.97 570.70 278.08 C569.97 278.20 568.98 278.32 568.10 278.58 C567.22 278.84 566.28 279.12 565.40 279.63 C564.52 280.15 563.60 280.91 562.80 281.68 C562.00 282.46 561.33 283.27 560.60 284.28 C559.87 285.30 559.13 286.53 558.40 287.78 C557.67 289.03 556.85 290.53 556.20 291.78 C555.55 293.03 555.00 294.42 554.50 295.28 C554.00 296.15 553.65 297.28 553.20 296.98 C552.75 296.68 552.22 295.08 551.80 293.48 C551.38 291.88 551.03 289.43 550.70 287.38 C550.37 285.33 550.05 282.77 549.80 281.18 C549.55 279.60 549.30 278.43 549.20 277.88 Z" fill="#1e7a8e" stroke="#2c2c30" stroke-width="0.7" stroke-linejoin="round"/>
<line x1="546.8" y1="277.88" x2="597" y2="277.88" stroke="#1c281c" stroke-width="1.15" stroke-opacity="0.68"/>
<line x1="551.8" y1="277.88" x2="559.7" y2="277.88" stroke="#2f2c30" stroke-width="2.3" />
<circle cx="555.6" cy="277.88" r="0.8" fill="#e8e8e8"/>
<path d="M556.50 320.85 C556.75 320.82 557.47 320.88 558.00 320.65 C558.53 320.42 559.12 320.18 559.70 319.45 C560.28 318.72 560.98 317.60 561.50 316.25 C562.02 314.90 562.37 313.12 562.80 311.35 C563.23 309.58 563.67 307.25 564.10 305.65 C564.53 304.05 564.95 301.75 565.40 301.75 C565.85 301.75 566.35 304.05 566.80 305.65 C567.25 307.25 567.67 309.58 568.10 311.35 C568.53 313.12 568.90 314.93 569.40 316.25 C569.90 317.57 570.52 318.54 571.10 319.25 C571.68 319.96 572.33 320.23 572.90 320.50 C573.47 320.77 574.23 320.79 574.50 320.85 L574.50 320.85 C574.23 320.91 573.47 320.93 572.90 321.20 C572.33 321.47 571.68 321.74 571.10 322.45 C570.52 323.16 569.90 324.13 569.40 325.45 C568.90 326.77 568.53 328.58 568.10 330.35 C567.67 332.12 567.25 334.45 566.80 336.05 C566.35 337.65 565.85 339.95 565.40 339.95 C564.95 339.95 564.53 337.65 564.10 336.05 C563.67 334.45 563.23 332.12 562.80 330.35 C562.37 328.58 562.02 326.80 561.50 325.45 C560.98 324.10 560.28 322.98 559.70 322.25 C559.12 321.52 558.53 321.28 558.00 321.05 C557.47 320.82 556.75 320.88 556.50 320.85 Z" fill="#b98a3c" stroke="#2c2c30" stroke-width="0.7" stroke-linejoin="round"/>
<line x1="549.2" y1="320.85" x2="603.4" y2="320.85" stroke="#1c281c" stroke-width="1.15" stroke-opacity="0.68"/>
<line x1="562.2" y1="320.85" x2="568.5" y2="320.85" stroke="#2f2c30" stroke-width="2.3" />
<circle cx="565.4" cy="320.85" r="0.8" fill="#e8e8e8"/>
<path d="M554.50 363.82 C554.87 363.80 555.97 363.92 556.70 363.72 C557.43 363.52 558.25 363.27 558.90 362.62 C559.55 361.97 560.07 361.02 560.60 359.82 C561.13 358.62 561.62 357.03 562.10 355.42 C562.58 353.80 562.98 351.90 563.50 350.12 C564.02 348.33 564.65 344.72 565.20 344.72 C565.75 344.72 566.30 348.33 566.80 350.12 C567.30 351.90 567.70 353.80 568.20 355.42 C568.70 357.03 569.17 358.68 569.80 359.82 C570.43 360.95 571.12 361.63 572.00 362.22 C572.88 362.80 573.85 363.07 575.10 363.32 C576.35 363.57 578.35 363.63 579.50 363.72 C580.65 363.80 581.58 363.80 582.00 363.82 L582.00 363.82 C581.58 363.83 580.65 363.83 579.50 363.92 C578.35 364.00 576.35 364.07 575.10 364.32 C573.85 364.57 572.88 364.83 572.00 365.42 C571.12 366.00 570.43 366.68 569.80 367.82 C569.17 368.95 568.70 370.60 568.20 372.22 C567.70 373.83 567.30 375.73 566.80 377.52 C566.30 379.30 565.75 382.92 565.20 382.92 C564.65 382.92 564.02 379.30 563.50 377.52 C562.98 375.73 562.58 373.83 562.10 372.22 C561.62 370.60 561.13 369.02 560.60 367.82 C560.07 366.62 559.55 365.67 558.90 365.02 C558.25 364.37 557.43 364.12 556.70 363.92 C555.97 363.72 554.87 363.83 554.50 363.82 Z" fill="#32824a" stroke="#2c2c30" stroke-width="0.7" stroke-linejoin="round"/>
<line x1="547.9" y1="363.82" x2="668.5" y2="363.82" stroke="#1c281c" stroke-width="1.15" stroke-opacity="0.68"/>
<line x1="561.9" y1="363.82" x2="568.1" y2="363.82" stroke="#2f2c30" stroke-width="2.3" />
<circle cx="565.2" cy="363.82" r="0.8" fill="#e8e8e8"/>
<text x="180.6" y="140.7" font-size="9.45" fill="#5b2c8e" text-anchor="start" >Training</text>
<text x="123.4" y="163.4" font-size="9.45" fill="#5b2c8e" text-anchor="start" >n=3,370 groups</text>
<text x="126.3" y="204.9" font-size="9.45" fill="#5b2c8e" text-anchor="start" >n=7,496 groups</text>
<text x="126.8" y="246.1" font-size="9.45" fill="#5b2c8e" text-anchor="start" >n=1,134 groups</text>
<text x="194.7" y="270.9" font-size="9.45" fill="#3d6b2a" text-anchor="start" >Test</text>
<text x="124.8" y="290.5" font-size="9.45" fill="#3d6b2a" text-anchor="start" >n=2,314 groups</text>
<text x="126.7" y="332.7" font-size="9.45" fill="#3d6b2a" text-anchor="start" >n=4,977 groups</text>
<text x="125.2" y="375.9" font-size="9.45" fill="#3d6b2a" text-anchor="start" >n=1,183 groups</text>
<text x="333" y="140.9" font-size="9.45" fill="#5b2c8e" text-anchor="start" >Training</text>
<text x="248.9" y="159.4" font-size="9.45" fill="#5b2c8e" text-anchor="start" >n=14,082 events</text>
<text x="252.4" y="204.9" font-size="9.45" fill="#5b2c8e" text-anchor="start" >n=27,576 events</text>
<text x="256.9" y="248.7" font-size="9.45" fill="#5b2c8e" text-anchor="start" >n=4,630 events</text>
<text x="346.4" y="271.5" font-size="9.45" fill="#3d6b2a" text-anchor="start" >Test</text>
<text x="247.3" y="288.6" font-size="9.45" fill="#3d6b2a" text-anchor="start" >n=10,886 events</text>
<text x="250.8" y="334" font-size="9.45" fill="#3d6b2a" text-anchor="start" >n=19,695 events</text>
<text x="258.8" y="376.7" font-size="9.45" fill="#3d6b2a" text-anchor="start" >n=7,300 events</text>
<text x="487.6" y="141.6" font-size="9.45" fill="#5b2c8e" text-anchor="start" >Training</text>
<text x="402.3" y="160" font-size="9.45" fill="#5b2c8e" text-anchor="start" >n=14,082 events</text>
<text x="407.8" y="203.7" font-size="9.45" fill="#5b2c8e" text-anchor="start" >n=27,576 events</text>
<text x="414.9" y="249.4" font-size="9.45" fill="#5b2c8e" text-anchor="start" >n=4,630 events</text>
<text x="501.3" y="272" font-size="9.45" fill="#3d6b2a" text-anchor="start" >Test</text>
<text x="400.3" y="290.2" font-size="9.45" fill="#3d6b2a" text-anchor="start" >n=10,886 events</text>
<text x="406.6" y="332.9" font-size="9.45" fill="#3d6b2a" text-anchor="start" >n=19,695 events</text>
<text x="409.4" y="378" font-size="9.45" fill="#3d6b2a" text-anchor="start" >n=7,300 events</text>
<text x="641.3" y="139.7" font-size="9.45" fill="#5b2c8e" text-anchor="start" >Training</text>
<text x="562" y="160.5" font-size="9.45" fill="#5b2c8e" text-anchor="start" >n=14,082 events</text>
<text x="587.3" y="205.6" font-size="9.45" fill="#5b2c8e" text-anchor="start" >n=27,576 events</text>
<text x="589.7" y="249.4" font-size="9.45" fill="#5b2c8e" text-anchor="start" >n=4,630 events</text>
<text x="654.7" y="270.2" font-size="9.45" fill="#3d6b2a" text-anchor="start" >Test</text>
<text x="569" y="290.8" font-size="9.45" fill="#3d6b2a" text-anchor="start" >n=10,886 events</text>
<text x="574.8" y="332.7" font-size="9.45" fill="#3d6b2a" text-anchor="start" >n=19,695 events</text>
<text x="577.3" y="375.4" font-size="9.45" fill="#3d6b2a" text-anchor="start" >n=7,300 events</text>
<rect x="77.5" y="127.5" width="144.1" height="257.8" fill="none" stroke="#8c8c8c" stroke-width="0.8"/>
<rect x="229.7" y="127.5" width="144.40000000000003" height="257.8" fill="none" stroke="#8c8c8c" stroke-width="0.8"/>
<rect x="383.2" y="127.5" width="144.3" height="257.8" fill="none" stroke="#8c8c8c" stroke-width="0.8"/>
<rect x="536.4" y="127.5" width="144.20000000000005" height="257.8" fill="none" stroke="#8c8c8c" stroke-width="0.8"/>
</g>
<defs><radialGradient id="spot" cx="50%" cy="50%" r="50%"><stop offset="0" stop-color="#ffffff"/><stop offset="0.22" stop-color="#f2f2f2"/><stop offset="0.42" stop-color="#a8a8a8"/><stop offset="0.66" stop-color="#4c4c4c"/><stop offset="1" stop-color="#1f1f1f"/></radialGradient></defs>
<g id="panelC">
<text x="1.6" y="417.6" font-size="9.7" fill="#111" text-anchor="start" stroke="#111" stroke-width="0.28">c</text>
<line x1="30.2" y1="422" x2="81.12" y2="422.0" stroke="#111" stroke-width="1.5" />
<path d="M0 0 L-5.6 -2.6 L-5.6 2.6 Z" fill="#111" transform="translate(85.6 422) rotate(0.0)"/>
<rect x="3" y="428.8" width="13.8" height="13.899999999999977" fill="#1f1f1f"/>
<circle cx="9.70" cy="436.05" r="6.4" fill="url(#spot)" opacity="1.0"/>
<rect x="18.1" y="429.0" width="14.1" height="13.899999999999977" fill="#1f1f1f"/>
<circle cx="25.25" cy="436.15" r="6.4" fill="url(#spot)" opacity="0.95"/>
<rect x="33.9" y="428.90000000000003" width="13.9" height="13.899999999999977" fill="#1f1f1f"/>
<circle cx="40.55" cy="435.95" r="6.4" fill="url(#spot)" opacity="0.95"/>
<rect x="49.2" y="429.1" width="13.8" height="13.899999999999977" fill="#1f1f1f"/>
<circle cx="56.10" cy="436.25" r="6.4" fill="url(#spot)" opacity="0.85"/>
<rect x="64.3" y="429.0" width="13.7" height="13.899999999999977" fill="#1f1f1f"/>
<circle cx="71.35" cy="436.15" r="6.4" fill="url(#spot)" opacity="0.85"/>
<rect x="79.2" y="429.3" width="14.3" height="13.899999999999977" fill="#1f1f1f"/>
<circle cx="86.65" cy="436.75" r="6.4" fill="url(#spot)" opacity="0.95"/>
<rect x="95.2" y="429.1" width="14.4" height="13.899999999999977" fill="#1f1f1f"/>
<circle cx="102.20" cy="436.35" r="6.4" fill="url(#spot)" opacity="0.9"/>
<line x1="109.6" y1="435.6" x2="160.8" y2="435.6" stroke="#111" stroke-width="1.15" />
<line x1="10.3" y1="443" x2="54.6" y2="469.2" stroke="#111" stroke-width="1.0" stroke-dasharray="1.3 0.9"/>
<line x1="103" y1="443" x2="64.3" y2="469.2" stroke="#111" stroke-width="1.0" stroke-dasharray="1.3 0.9"/>
<line x1="42.1" y1="468.8" x2="42.1" y2="510.3" stroke="#0a0a0a" stroke-width="1.15" />
<line x1="36.7" y1="469.4" x2="42.1" y2="469.4" stroke="#0a0a0a" stroke-width="1.1" />
<line x1="39.1" y1="506.4" x2="42.1" y2="506.4" stroke="#0a0a0a" stroke-width="1.1" />
<line x1="41.6" y1="509.7" x2="77.9" y2="509.7" stroke="#0a0a0a" stroke-width="1.15" />
<path d="M42.1 506.4 L54.6 506.4 L54.6 469.4 L64.3 469.4 L64.3 506.4 L77.9 506.4" fill="none" stroke="#0a0a0a" stroke-width="1.15"/>
<text x="33.3" y="472.9" font-size="7.9" fill="#111" text-anchor="middle" >1</text>
<text x="33.8" y="509.5" font-size="7.9" fill="#111" text-anchor="middle" >0</text>
<text x="59" y="524.7" font-size="9.33" fill="#111" text-anchor="middle" >Signal detected</text>
<text x="59" y="535.9" font-size="9.33" fill="#111" text-anchor="middle" >(0.1 – 10s)</text>
<rect x="160.8" y="422.4" width="117.7" height="25.2" rx="4.5" ry="4.5" fill="#fff" stroke="#0a0a0a" stroke-width="1.25"/>
<text x="219.6" y="438.4" font-size="9.4" fill="#111" text-anchor="middle" >Pre-processing</text>
<line x1="278.5" y1="435.4" x2="327.68" y2="435.4" stroke="#111" stroke-width="1.15" />
<path d="M0 0 L-5.4 -2.4 L-5.4 2.4 Z" fill="#111" transform="translate(332 435.4) rotate(0.0)"/>
<circle cx="171.4" cy="447.7" r="2.1" fill="#0a0a0a"/>
<line x1="171.4" y1="448" x2="171.4" y2="525.9" stroke="#111" stroke-width="1.15" />
<line x1="171.4" y1="466.7" x2="184.74" y2="466.7" stroke="#111" stroke-width="1.15" />
<path d="M0 0 L-5.2 -2.35 L-5.2 2.35 Z" fill="#111" transform="translate(188.9 466.7) rotate(0.0)"/>
<line x1="171.4" y1="496" x2="184.74" y2="496.0" stroke="#111" stroke-width="1.15" />
<path d="M0 0 L-5.2 -2.35 L-5.2 2.35 Z" fill="#111" transform="translate(188.9 496) rotate(0.0)"/>
<line x1="171.4" y1="525.3" x2="184.74" y2="525.3" stroke="#111" stroke-width="1.15" />
<path d="M0 0 L-5.2 -2.35 L-5.2 2.35 Z" fill="#111" transform="translate(188.9 525.3) rotate(0.0)"/>
<text x="199" y="470.2" font-size="9.33" fill="#111" text-anchor="start" >Background correction</text>
<text x="197.6" y="499.4" font-size="9.33" fill="#111" text-anchor="start" >Blinking correction</text>
<text x="197.6" y="528.2" font-size="9.33" fill="#111" text-anchor="start" >Slicing &amp; padding</text>
<rect x="332.3" y="422.4" width="218.2" height="25.2" rx="4.5" ry="4.5" fill="#fff" stroke="#0a0a0a" stroke-width="1.25"/>
<text x="440.9" y="438.7" font-size="9.42" fill="#111" text-anchor="middle" >Image-based binding type classification model</text>
<circle cx="352.9" cy="447.6" r="2.1" fill="#0a0a0a"/>
<line x1="352.9" y1="452" x2="352.9" y2="560.9" stroke="#111" stroke-width="1.15" />
<path d="M0 0 L-5.4 -2.5 L-5.4 2.5 Z" fill="#111" transform="translate(352.9 449) rotate(-90)"/>
<rect x="365.6" y="455.2" width="169.89999999999998" height="114.80000000000001" fill="#fff"/>
<rect x="365.6" y="455.2" width="169.89999999999998" height="18.600000000000023" fill="#b3b3b3"/>
<line x1="365.0" y1="455.2" x2="536.1" y2="455.2" stroke="#0a0a0a" stroke-width="1.2" />
<line x1="365.0" y1="473.8" x2="536.1" y2="473.8" stroke="#0a0a0a" stroke-width="1.2" />
<line x1="365.0" y1="492.8" x2="536.1" y2="492.8" stroke="#0a0a0a" stroke-width="1.2" />
<line x1="365.0" y1="512.1" x2="536.1" y2="512.1" stroke="#0a0a0a" stroke-width="1.2" />
<line x1="365.0" y1="531.4" x2="536.1" y2="531.4" stroke="#0a0a0a" stroke-width="1.2" />
<line x1="365.0" y1="550.7" x2="536.1" y2="550.7" stroke="#0a0a0a" stroke-width="1.2" />
<line x1="365.0" y1="570.0" x2="536.1" y2="570.0" stroke="#0a0a0a" stroke-width="1.2" />
<line x1="365.6" y1="455.2" x2="365.6" y2="570.0" stroke="#0a0a0a" stroke-width="1.2" />
<line x1="457.6" y1="455.2" x2="457.6" y2="570.0" stroke="#0a0a0a" stroke-width="1.2" />
<line x1="535.5" y1="455.2" x2="535.5" y2="570.0" stroke="#0a0a0a" stroke-width="1.2" />
<text x="411.6" y="467.8" font-size="9.33" fill="#fff" text-anchor="middle" >Models</text>
<text x="496.55" y="467.8" font-size="9.33" fill="#fff" text-anchor="middle" >Accuracy (%)</text>
<text x="411.6" y="486.9" font-size="9.4" fill="#111" text-anchor="middle" >T2C CNN</text>
<text x="496.55" y="486.9" font-size="9.4" fill="#111" text-anchor="middle" >88.15±1.86</text>
<line x1="352.4" y1="483.6" x2="365.6" y2="483.6" stroke="#111" stroke-width="1.15" />
<text x="411.6" y="506.05" font-size="9.4" fill="#111" text-anchor="middle" >Video Transformer</text>
<text x="496.55" y="506.05" font-size="9.4" fill="#111" text-anchor="middle" >68.88±2.54</text>
<line x1="352.4" y1="502.75" x2="365.6" y2="502.75" stroke="#111" stroke-width="1.15" />
<text x="411.6" y="525.35" font-size="9.4" fill="#111" text-anchor="middle" >SqueezeTime</text>
<text x="496.55" y="525.35" font-size="9.4" fill="#111" text-anchor="middle" >67.31±1.93</text>
<line x1="352.4" y1="522.05" x2="365.6" y2="522.05" stroke="#111" stroke-width="1.15" />
<text x="411.6" y="544.65" font-size="9.4" fill="#111" text-anchor="middle" >3D ResNet-18</text>
<text x="496.55" y="544.65" font-size="9.4" fill="#111" text-anchor="middle" >63.17±3.51</text>
<line x1="352.4" y1="541.35" x2="365.6" y2="541.35" stroke="#111" stroke-width="1.15" />
<text x="411.6" y="563.95" font-size="9.4" fill="#111" text-anchor="middle" >ED-TCN</text>
<text x="496.55" y="563.95" font-size="9.4" fill="#111" text-anchor="middle" >59.72±3.20</text>
<line x1="352.4" y1="560.65" x2="365.6" y2="560.65" stroke="#111" stroke-width="1.15" />
<line x1="550.5" y1="435" x2="636.88" y2="435.0" stroke="#111" stroke-width="1.15" />
<path d="M0 0 L-5.4 -2.4 L-5.4 2.4 Z" fill="#111" transform="translate(641.2 435) rotate(0.0)"/>
<path d="M617.8 435 L617.8 467.1 L634 467.1" fill="none" stroke="#111" stroke-width="1.1"/>
<path d="M0 0 L-5.4 -2.4 L-5.4 2.4 Z" fill="#111" transform="translate(637.9 467.1) rotate(0)"/>
<path d="M598.7 435 L598.7 504.2 L631 504.2" fill="none" stroke="#111" stroke-width="1.1"/>
<path d="M0 0 L-5.4 -2.4 L-5.4 2.4 Z" fill="#111" transform="translate(634.6 504.2) rotate(0)"/>
<text x="666" y="438.5" font-size="9.5" fill="#111" text-anchor="middle" >6nt-6nt</text>
<text x="666" y="453.8" font-size="9.33" fill="#111" text-anchor="middle" >or</text>
<text x="665.6" y="470.2" font-size="9.5" fill="#111" text-anchor="middle" >8nt-10nt</text>
<text x="666" y="488.8" font-size="9.33" fill="#111" text-anchor="middle" >or</text>
<text x="666" y="507.4" font-size="9.5" fill="#111" text-anchor="middle" >10nt-10nt</text>
</g>
</svg>
</body></html>
